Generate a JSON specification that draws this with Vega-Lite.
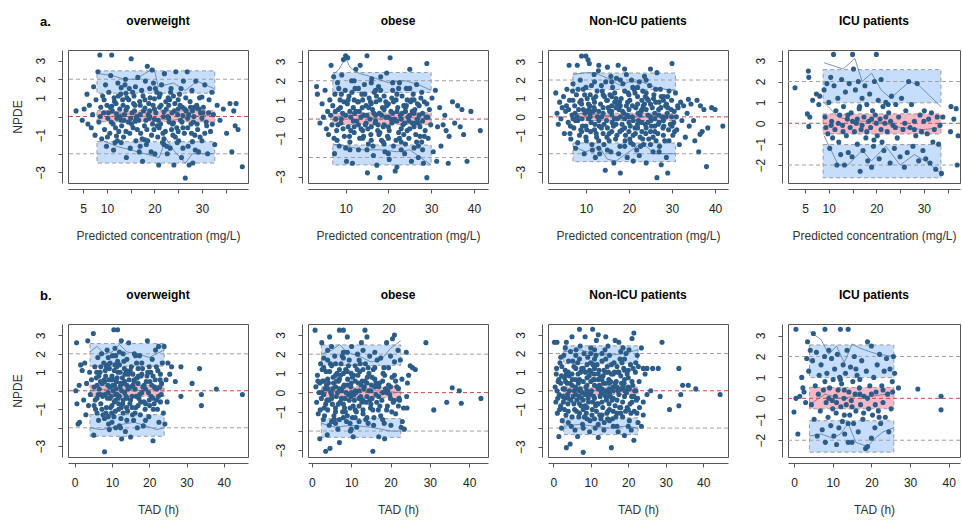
{
"$schema":"https://vega.github.io/schema/vega-lite/v6.json",
"padding":{"left":10,"top":14,"right":0,"bottom":4},
"background":"white",
"datasets":{
"ref":[{"y":2,"c":"g"},{"y":-2,"c":"g"},{"y":0,"c":"r"}],
"box":[
{"p":"a1","t":"b","x":7.9,"x2":32.7,"y":1.25,"y2":2.45},{"p":"a1","t":"b","x":7.9,"x2":32.7,"y":-2.5,"y2":-1.35},{"p":"a1","t":"p","x":7.9,"x2":32.7,"y":-0.28,"y2":0.31},
{"p":"a2","t":"b","x":7.0,"x2":30.0,"y":1.39,"y2":2.43},{"p":"a2","t":"b","x":7.0,"x2":30.0,"y":-2.39,"y2":-1.35},{"p":"a2","t":"p","x":7.0,"x2":30.0,"y":-0.28,"y2":0.33},
{"p":"a3","t":"b","x":7.0,"x2":30.8,"y":1.48,"y2":2.38},{"p":"a3","t":"b","x":7.0,"x2":30.8,"y":-2.43,"y2":-1.42},{"p":"a3","t":"p","x":7.0,"x2":30.8,"y":-0.2,"y2":0.2},
{"p":"a4","t":"b","x":8.8,"x2":33.6,"y":0.98,"y2":2.57},{"p":"a4","t":"b","x":8.8,"x2":33.6,"y":-2.61,"y2":-1.02},{"p":"a4","t":"p","x":8.8,"x2":33.6,"y":-0.51,"y2":0.45},
{"p":"b1","t":"b","x":4.1,"x2":24.0,"y":1.33,"y2":2.55},{"p":"b1","t":"b","x":4.1,"x2":24.0,"y":-2.46,"y2":-1.29},{"p":"b1","t":"p","x":4.1,"x2":24.0,"y":-0.3,"y2":0.3},
{"p":"b2","t":"b","x":2.4,"x2":22.6,"y":1.42,"y2":2.48},{"p":"b2","t":"b","x":2.4,"x2":22.6,"y":-2.33,"y2":-1.35},{"p":"b2","t":"p","x":2.4,"x2":22.6,"y":-0.26,"y2":0.3},
{"p":"b3","t":"b","x":2.8,"x2":22.6,"y":1.45,"y2":2.41},{"p":"b3","t":"b","x":2.8,"x2":22.6,"y":-2.35,"y2":-1.45},{"p":"b3","t":"p","x":2.8,"x2":22.6,"y":-0.2,"y2":0.2},
{"p":"b4","t":"b","x":4.0,"x2":25.8,"y":0.99,"y2":2.55},{"p":"b4","t":"b","x":4.0,"x2":25.8,"y":-2.57,"y2":-1.07},{"p":"b4","t":"p","x":4.0,"x2":25.8,"y":-0.5,"y2":0.52}
],
"pl":[
{"p":"a1","k":"u","x":8.3,"y":2.3},{"p":"a1","k":"u","x":11,"y":2.2},{"p":"a1","k":"u","x":13.7,"y":2.0},{"p":"a1","k":"u","x":16,"y":2.0},{"p":"a1","k":"u","x":19.9,"y":2.6},{"p":"a1","k":"u","x":20.8,"y":1.6},{"p":"a1","k":"u","x":24,"y":1.8},{"p":"a1","k":"u","x":26.5,"y":1.4},{"p":"a1","k":"u","x":29,"y":1.9},{"p":"a1","k":"u","x":32.5,"y":1.5},
{"p":"a1","k":"m","x":8.3,"y":0.1},{"p":"a1","k":"m","x":12,"y":0.2},{"p":"a1","k":"m","x":16,"y":0.1},{"p":"a1","k":"m","x":20,"y":-0.1},{"p":"a1","k":"m","x":24,"y":-0.2},{"p":"a1","k":"m","x":28,"y":0.0},{"p":"a1","k":"m","x":32.5,"y":0.1},
{"p":"a1","k":"l","x":8.3,"y":-1.2},{"p":"a1","k":"l","x":12,"y":-1.6},{"p":"a1","k":"l","x":15,"y":-1.8},{"p":"a1","k":"l","x":18,"y":-2.0},{"p":"a1","k":"l","x":21,"y":-2.2},{"p":"a1","k":"l","x":22.5,"y":-1.2},{"p":"a1","k":"l","x":24,"y":-1.8},{"p":"a1","k":"l","x":26.5,"y":-2.5},{"p":"a1","k":"l","x":28,"y":-2.0},{"p":"a1","k":"l","x":32.5,"y":-2.0},
{"p":"a2","k":"u","x":7,"y":2.3},{"p":"a2","k":"u","x":8.5,"y":2.6},{"p":"a2","k":"u","x":10,"y":3.2},{"p":"a2","k":"u","x":11,"y":2.7},{"p":"a2","k":"u","x":13,"y":2.4},{"p":"a2","k":"u","x":16,"y":2.2},{"p":"a2","k":"u","x":20,"y":1.9},{"p":"a2","k":"u","x":24,"y":2.0},{"p":"a2","k":"u","x":27,"y":1.8},{"p":"a2","k":"u","x":30,"y":1.5},
{"p":"a2","k":"m","x":7,"y":0.1},{"p":"a2","k":"m","x":12,"y":0.2},{"p":"a2","k":"m","x":18,"y":0.0},{"p":"a2","k":"m","x":24,"y":0.1},{"p":"a2","k":"m","x":30,"y":0.0},
{"p":"a2","k":"l","x":7,"y":-1.3},{"p":"a2","k":"l","x":10,"y":-1.4},{"p":"a2","k":"l","x":14,"y":-1.6},{"p":"a2","k":"l","x":18,"y":-1.6},{"p":"a2","k":"l","x":22,"y":-1.7},{"p":"a2","k":"l","x":25,"y":-1.6},{"p":"a2","k":"l","x":30,"y":-2.4},
{"p":"a3","k":"u","x":7,"y":2.3},{"p":"a3","k":"u","x":10,"y":2.4},{"p":"a3","k":"u","x":12,"y":2.4},{"p":"a3","k":"u","x":15,"y":2.1},{"p":"a3","k":"u","x":18,"y":1.7},{"p":"a3","k":"u","x":20,"y":1.9},{"p":"a3","k":"u","x":23,"y":1.9},{"p":"a3","k":"u","x":26,"y":1.6},{"p":"a3","k":"u","x":30.8,"y":1.4},
{"p":"a3","k":"m","x":7,"y":0.2},{"p":"a3","k":"m","x":13,"y":0.1},{"p":"a3","k":"m","x":19,"y":0.0},{"p":"a3","k":"m","x":25,"y":0.0},{"p":"a3","k":"m","x":30.8,"y":0.0},
{"p":"a3","k":"l","x":7,"y":-1.6},{"p":"a3","k":"l","x":10,"y":-1.9},{"p":"a3","k":"l","x":13,"y":-1.6},{"p":"a3","k":"l","x":15,"y":-2.3},{"p":"a3","k":"l","x":17,"y":-2.4},{"p":"a3","k":"l","x":20,"y":-1.9},{"p":"a3","k":"l","x":23,"y":-1.4},{"p":"a3","k":"l","x":26,"y":-2.0},{"p":"a3","k":"l","x":30.8,"y":-2.0},
{"p":"a4","k":"u","x":9,"y":2.9},{"p":"a4","k":"u","x":13,"y":2.6},{"p":"a4","k":"u","x":15.5,"y":3.1},{"p":"a4","k":"u","x":17,"y":2.0},{"p":"a4","k":"u","x":19,"y":2.4},{"p":"a4","k":"u","x":21,"y":1.6},{"p":"a4","k":"u","x":23,"y":1.2},{"p":"a4","k":"u","x":27,"y":2.0},{"p":"a4","k":"u","x":29,"y":1.8},{"p":"a4","k":"u","x":33.6,"y":0.8},
{"p":"a4","k":"m","x":9,"y":1.0},{"p":"a4","k":"m","x":12,"y":0.3},{"p":"a4","k":"m","x":15,"y":0.1},{"p":"a4","k":"m","x":20,"y":0.1},{"p":"a4","k":"m","x":25,"y":-0.2},{"p":"a4","k":"m","x":30,"y":-0.3},{"p":"a4","k":"m","x":33.6,"y":-0.2},
{"p":"a4","k":"l","x":9,"y":-0.6},{"p":"a4","k":"l","x":12,"y":-2.0},{"p":"a4","k":"l","x":14,"y":-2.0},{"p":"a4","k":"l","x":17,"y":-1.3},{"p":"a4","k":"l","x":19,"y":-1.8},{"p":"a4","k":"l","x":22,"y":-1.1},{"p":"a4","k":"l","x":25,"y":-2.0},{"p":"a4","k":"l","x":28,"y":-1.5},{"p":"a4","k":"l","x":31,"y":-1.9},{"p":"a4","k":"l","x":33.6,"y":-2.4},
{"p":"b1","k":"u","x":4.1,"y":2.1},{"p":"b1","k":"u","x":6,"y":2.4},{"p":"b1","k":"u","x":8,"y":2.0},{"p":"b1","k":"u","x":10,"y":2.1},{"p":"b1","k":"u","x":12,"y":2.5},{"p":"b1","k":"u","x":14,"y":2.1},{"p":"b1","k":"u","x":17,"y":2.0},{"p":"b1","k":"u","x":20,"y":1.8},{"p":"b1","k":"u","x":24,"y":2.2},
{"p":"b1","k":"m","x":4.1,"y":0.0},{"p":"b1","k":"m","x":10,"y":0.1},{"p":"b1","k":"m","x":16,"y":0.0},{"p":"b1","k":"m","x":24,"y":0.1},
{"p":"b1","k":"l","x":4.1,"y":-2.0},{"p":"b1","k":"l","x":7,"y":-2.1},{"p":"b1","k":"l","x":10,"y":-2.0},{"p":"b1","k":"l","x":13,"y":-1.8},{"p":"b1","k":"l","x":16,"y":-1.7},{"p":"b1","k":"l","x":19,"y":-1.9},{"p":"b1","k":"l","x":22,"y":-2.1},{"p":"b1","k":"l","x":24,"y":-2.0},
{"p":"b2","k":"u","x":2.4,"y":2.0},{"p":"b2","k":"u","x":5,"y":2.2},{"p":"b2","k":"u","x":7,"y":2.5},{"p":"b2","k":"u","x":9,"y":2.1},{"p":"b2","k":"u","x":12,"y":1.9},{"p":"b2","k":"u","x":15,"y":1.6},{"p":"b2","k":"u","x":17.5,"y":1.7},{"p":"b2","k":"u","x":20,"y":2.3},{"p":"b2","k":"u","x":22.6,"y":2.7},
{"p":"b2","k":"m","x":2.4,"y":0.1},{"p":"b2","k":"m","x":10,"y":0.0},{"p":"b2","k":"m","x":16,"y":0.1},{"p":"b2","k":"m","x":22.6,"y":0.0},
{"p":"b2","k":"l","x":2.4,"y":-1.6},{"p":"b2","k":"l","x":6,"y":-1.8},{"p":"b2","k":"l","x":10,"y":-1.7},{"p":"b2","k":"l","x":15,"y":-1.8},{"p":"b2","k":"l","x":20,"y":-2.0},{"p":"b2","k":"l","x":22.6,"y":-2.0},
{"p":"b3","k":"u","x":2.8,"y":2.1},{"p":"b3","k":"u","x":7,"y":2.2},{"p":"b3","k":"u","x":11,"y":2.0},{"p":"b3","k":"u","x":15,"y":1.9},{"p":"b3","k":"u","x":19,"y":2.0},{"p":"b3","k":"u","x":22.6,"y":2.2},
{"p":"b3","k":"m","x":2.8,"y":0.0},{"p":"b3","k":"m","x":12,"y":0.0},{"p":"b3","k":"m","x":22.6,"y":0.0},
{"p":"b3","k":"l","x":2.8,"y":-1.9},{"p":"b3","k":"l","x":7,"y":-1.8},{"p":"b3","k":"l","x":11,"y":-1.9},{"p":"b3","k":"l","x":15,"y":-2.0},{"p":"b3","k":"l","x":19,"y":-1.9},{"p":"b3","k":"l","x":22.6,"y":-2.0},
{"p":"b4","k":"u","x":4,"y":3.2},{"p":"b4","k":"u","x":7,"y":2.8},{"p":"b4","k":"u","x":9,"y":2.1},{"p":"b4","k":"u","x":11,"y":2.5},{"p":"b4","k":"u","x":13,"y":1.7},{"p":"b4","k":"u","x":15,"y":2.6},{"p":"b4","k":"u","x":17,"y":2.4},{"p":"b4","k":"u","x":20,"y":2.2},{"p":"b4","k":"u","x":22,"y":2.1},{"p":"b4","k":"u","x":25.8,"y":2.0},
{"p":"b4","k":"m","x":4,"y":-0.3},{"p":"b4","k":"m","x":8,"y":0.2},{"p":"b4","k":"m","x":12,"y":0.0},{"p":"b4","k":"m","x":16,"y":0.1},{"p":"b4","k":"m","x":20,"y":0.1},{"p":"b4","k":"m","x":24,"y":0.2},{"p":"b4","k":"m","x":25.8,"y":0.4},
{"p":"b4","k":"l","x":4,"y":-1.8},{"p":"b4","k":"l","x":7,"y":-1.7},{"p":"b4","k":"l","x":10,"y":-1.9},{"p":"b4","k":"l","x":12,"y":-1.7},{"p":"b4","k":"l","x":14,"y":-1.2},{"p":"b4","k":"l","x":16,"y":-2.1},{"p":"b4","k":"l","x":19,"y":-2.3},{"p":"b4","k":"l","x":21,"y":-1.9},{"p":"b4","k":"l","x":23,"y":-1.6},{"p":"b4","k":"l","x":25.8,"y":-1.4}
],
"pts":[
{"p":"a1","x":3.5,"y":0.3},{"p":"a1","x":4.8,"y":-0.2},{"p":"a1","x":5.2,"y":0.4},{"p":"a1","x":5.8,"y":1.2},{"p":"a1","x":6.0,"y":-0.4},{"p":"a1","x":6.3,"y":0.6},{"p":"a1","x":6.7,"y":-0.6},{"p":"a1","x":7.0,"y":0.1},{"p":"a1","x":7.2,"y":1.6},{"p":"a1","x":7.5,"y":-1.0},{"p":"a1","x":7.7,"y":0.9},
{"p":"a1","x":8.1,"y":2.4},{"p":"a1","x":8.3,"y":-0.3},{"p":"a1","x":8.5,"y":3.3},{"p":"a1","x":8.7,"y":0.5},{"p":"a1","x":8.9,"y":-1.2},{"p":"a1","x":9.1,"y":1.1},{"p":"a1","x":9.3,"y":0.2},{"p":"a1","x":9.5,"y":-0.7},{"p":"a1","x":9.7,"y":1.7},{"p":"a1","x":9.9,"y":-1.6},{"p":"a1","x":10.0,"y":0.6},{"p":"a1","x":10.2,"y":-0.1},
{"p":"a1","x":10.4,"y":1.3},{"p":"a1","x":10.6,"y":-0.9},{"p":"a1","x":10.8,"y":2.2},{"p":"a1","x":11.0,"y":3.3},{"p":"a1","x":11.1,"y":0.3},{"p":"a1","x":11.3,"y":-0.4},{"p":"a1","x":11.5,"y":1.0},{"p":"a1","x":11.7,"y":-1.4},{"p":"a1","x":11.9,"y":0.7},{"p":"a1","x":12.1,"y":-0.1},{"p":"a1","x":12.3,"y":1.8},{"p":"a1","x":12.5,"y":-0.8},{"p":"a1","x":12.7,"y":0.4},{"p":"a1","x":12.9,"y":1.2},{"p":"a1","x":13.1,"y":-0.5},{"p":"a1","x":13.3,"y":0.9},
{"p":"a1","x":13.5,"y":-1.1},{"p":"a1","x":13.7,"y":0.1},{"p":"a1","x":13.9,"y":2.0},{"p":"a1","x":14.1,"y":-2.2},{"p":"a1","x":14.3,"y":0.5},{"p":"a1","x":14.5,"y":-0.3},{"p":"a1","x":14.7,"y":1.5},{"p":"a1","x":14.9,"y":-1.7},{"p":"a1","x":15.1,"y":3.1},{"p":"a1","x":15.3,"y":0.2},{"p":"a1","x":15.5,"y":-0.6},{"p":"a1","x":15.7,"y":1.1},{"p":"a1","x":15.9,"y":0.6},{"p":"a1","x":16.1,"y":-1.3},{"p":"a1","x":16.3,"y":0.0},{"p":"a1","x":16.5,"y":2.1},{"p":"a1","x":16.7,"y":-0.2},{"p":"a1","x":16.9,"y":0.8},
{"p":"a1","x":17.1,"y":-0.9},{"p":"a1","x":17.3,"y":1.4},{"p":"a1","x":17.5,"y":-2.4},{"p":"a1","x":17.7,"y":0.3},{"p":"a1","x":17.9,"y":-0.5},{"p":"a1","x":18.1,"y":1.9},{"p":"a1","x":18.3,"y":-1.5},{"p":"a1","x":18.5,"y":2.7},{"p":"a1","x":18.7,"y":0.1},{"p":"a1","x":18.9,"y":-0.1},{"p":"a1","x":19.1,"y":1.0},{"p":"a1","x":19.3,"y":-1.9},{"p":"a1","x":19.5,"y":2.5},{"p":"a1","x":19.7,"y":0.6},{"p":"a1","x":19.9,"y":-0.7},{"p":"a1","x":20.1,"y":-2.0},{"p":"a1","x":20.3,"y":0.2},{"p":"a1","x":20.5,"y":1.3},{"p":"a1","x":20.7,"y":-1.1},{"p":"a1","x":20.9,"y":-2.6},
{"p":"a1","x":21.1,"y":0.5},{"p":"a1","x":21.3,"y":-0.4},{"p":"a1","x":21.5,"y":1.7},{"p":"a1","x":21.7,"y":-1.4},{"p":"a1","x":21.9,"y":0.0},{"p":"a1","x":22.1,"y":2.3},{"p":"a1","x":22.3,"y":-0.8},{"p":"a1","x":22.5,"y":0.4},{"p":"a1","x":22.7,"y":-2.0},{"p":"a1","x":22.9,"y":1.0},{"p":"a1","x":23.1,"y":-0.3},{"p":"a1","x":23.3,"y":-1.7},{"p":"a1","x":23.5,"y":1.5},{"p":"a1","x":23.7,"y":0.2},{"p":"a1","x":23.9,"y":-1.0},{"p":"a1","x":24.1,"y":-2.6},{"p":"a1","x":24.3,"y":0.7},{"p":"a1","x":24.5,"y":2.4},{"p":"a1","x":24.7,"y":-0.6},{"p":"a1","x":24.9,"y":0.1},
{"p":"a1","x":25.1,"y":-1.3},{"p":"a1","x":25.3,"y":1.2},{"p":"a1","x":25.5,"y":-0.2},{"p":"a1","x":25.7,"y":-2.2},{"p":"a1","x":25.9,"y":0.5},{"p":"a1","x":26.1,"y":1.9},{"p":"a1","x":26.3,"y":-0.9},{"p":"a1","x":26.5,"y":-3.3},{"p":"a1","x":26.7,"y":0.3},{"p":"a1","x":26.9,"y":2.4},{"p":"a1","x":27.1,"y":-1.6},{"p":"a1","x":27.3,"y":-2.6},{"p":"a1","x":27.5,"y":0.8},{"p":"a1","x":27.7,"y":-0.4},{"p":"a1","x":27.9,"y":1.4},{"p":"a1","x":28.1,"y":-2.5},{"p":"a1","x":28.3,"y":0.0},{"p":"a1","x":28.5,"y":-1.0},{"p":"a1","x":28.7,"y":1.9},{"p":"a1","x":28.9,"y":0.6},
{"p":"a1","x":29.1,"y":-0.7},{"p":"a1","x":29.3,"y":-1.9},{"p":"a1","x":29.5,"y":1.0},{"p":"a1","x":29.7,"y":0.2},{"p":"a1","x":30.0,"y":-1.3},{"p":"a1","x":30.3,"y":0.5},{"p":"a1","x":30.6,"y":1.7},{"p":"a1","x":30.9,"y":-0.3},{"p":"a1","x":31.2,"y":-2.0},{"p":"a1","x":31.5,"y":0.9},{"p":"a1","x":31.8,"y":-0.8},{"p":"a1","x":32.1,"y":1.3},{"p":"a1","x":32.4,"y":0.1},{"p":"a1","x":32.7,"y":-1.5},
{"p":"a1","x":33.2,"y":0.6},{"p":"a1","x":33.8,"y":-0.2},{"p":"a1","x":34.5,"y":0.4},{"p":"a1","x":35.2,"y":-0.9},{"p":"a1","x":35.9,"y":0.7},{"p":"a1","x":36.3,"y":-1.9},{"p":"a1","x":36.7,"y":0.3},{"p":"a1","x":37.0,"y":-0.5},{"p":"a1","x":37.2,"y":0.7},{"p":"a1","x":37.6,"y":-0.7},{"p":"a1","x":38.5,"y":-2.7},
{"p":"a1","x":12,"y":0.15},{"p":"a1","x":14,"y":0.35},{"p":"a1","x":16,"y":-0.25},{"p":"a1","x":18,"y":0.45},{"p":"a1","x":20,"y":-0.15},{"p":"a1","x":22,"y":0.25},{"p":"a1","x":24,"y":-0.35},{"p":"a1","x":26,"y":0.05},{"p":"a1","x":28,"y":0.3},{"p":"a1","x":30,"y":-0.1},{"p":"a1","x":13,"y":-0.2},{"p":"a1","x":17,"y":0.6},{"p":"a1","x":21,"y":-0.6},{"p":"a1","x":25,"y":0.4},{"p":"a1","x":19,"y":0.0},{"p":"a1","x":23,"y":0.6},{"p":"a1","x":15,"y":-0.1},{"p":"a1","x":27,"y":-0.1},{"p":"a1","x":11,"y":0.55},{"p":"a1","x":29,"y":0.45},
{"p":"a1","x":12,"y":-1.05},{"p":"a1","x":14,"y":1.25},{"p":"a1","x":16,"y":1.6},{"p":"a1","x":18,"y":-1.25},{"p":"a1","x":20,"y":0.95},{"p":"a1","x":22,"y":-1.2},{"p":"a1","x":24,"y":1.1},{"p":"a1","x":26,"y":-1.7},{"p":"a1","x":28,"y":-1.35},{"p":"a1","x":30,"y":1.05},{"p":"a1","x":13,"y":1.55},{"p":"a1","x":17,"y":-1.6},{"p":"a1","x":21,"y":1.05},{"p":"a1","x":25,"y":-0.8},{"p":"a1","x":19,"y":1.5},
{"p":"a1","x":10.3,"y":0.2},{"p":"a1","x":10.9,"y":-0.3},{"p":"a1","x":11.6,"y":0.8},{"p":"a1","x":12.2,"y":-1.3},{"p":"a1","x":12.8,"y":0.0},{"p":"a1","x":13.4,"y":0.6},{"p":"a1","x":14.0,"y":-0.8},{"p":"a1","x":14.6,"y":0.9},{"p":"a1","x":15.2,"y":-0.4},{"p":"a1","x":15.8,"y":0.3},{"p":"a1","x":16.4,"y":-0.7},{"p":"a1","x":17.0,"y":0.1},{"p":"a1","x":17.6,"y":1.1},{"p":"a1","x":18.2,"y":-0.2},{"p":"a1","x":18.8,"y":0.7},{"p":"a1","x":19.4,"y":-1.0},{"p":"a1","x":20.0,"y":0.4},{"p":"a1","x":20.6,"y":-0.5},{"p":"a1","x":21.2,"y":1.2},{"p":"a1","x":21.8,"y":-0.9},{"p":"a1","x":22.4,"y":0.8},{"p":"a1","x":23.0,"y":-0.1},{"p":"a1","x":23.6,"y":-0.7},{"p":"a1","x":24.2,"y":0.3},{"p":"a1","x":24.8,"y":-1.4},{"p":"a1","x":25.4,"y":0.6},{"p":"a1","x":26.0,"y":-0.6},{"p":"a1","x":26.6,"y":1.0},{"p":"a1","x":27.2,"y":0.1},{"p":"a1","x":27.8,"y":-0.9},{"p":"a1","x":28.4,"y":0.5},{"p":"a1","x":29.0,"y":-0.4},{"p":"a1","x":29.6,"y":-1.1},{"p":"a1","x":30.2,"y":0.2},{"p":"a1","x":31.0,"y":-0.5},{"p":"a1","x":13.8,"y":1.7},{"p":"a1","x":16.8,"y":-1.9},{"p":"a1","x":19.8,"y":1.8},{"p":"a1","x":22.6,"y":-1.6},{"p":"a1","x":25.6,"y":1.5},{"p":"a1","x":11.4,"y":-1.8},{"p":"a1","x":28.6,"y":-1.8},{"p":"a1","x":15.4,"y":1.3},{"p":"a1","x":18.6,"y":-1.3},{"p":"a1","x":23.4,"y":1.3},
{"p":"a1","x":8.6,"y":0.0},{"p":"a1","x":9.4,"y":0.9},{"p":"a1","x":10.1,"y":-1.1},{"p":"a1","x":10.7,"y":0.5},{"p":"a1","x":11.8,"y":-0.6},{"p":"a1","x":12.4,"y":1.1},{"p":"a1","x":13.0,"y":-1.4},{"p":"a1","x":13.6,"y":-0.2},{"p":"a1","x":14.2,"y":1.0},{"p":"a1","x":14.8,"y":-0.9},{"p":"a1","x":15.6,"y":0.7},{"p":"a1","x":16.2,"y":-0.1},{"p":"a1","x":17.4,"y":-1.2},{"p":"a1","x":18.0,"y":0.9},{"p":"a1","x":18.4,"y":-0.7},{"p":"a1","x":19.0,"y":0.3},{"p":"a1","x":19.6,"y":-0.4},{"p":"a1","x":20.2,"y":1.5},{"p":"a1","x":20.8,"y":-0.2},{"p":"a1","x":21.4,"y":0.6},{"p":"a1","x":22.0,"y":-1.5},{"p":"a1","x":22.8,"y":0.0},{"p":"a1","x":23.2,"y":0.9},{"p":"a1","x":23.8,"y":-0.4},{"p":"a1","x":24.4,"y":-1.1},{"p":"a1","x":25.0,"y":0.9},{"p":"a1","x":25.8,"y":-0.3},{"p":"a1","x":26.4,"y":0.4},{"p":"a1","x":27.0,"y":-0.6},{"p":"a1","x":27.6,"y":0.5},{"p":"a1","x":28.2,"y":-0.3},{"p":"a1","x":29.4,"y":0.4},{"p":"a1","x":30.6,"y":-0.9},{"p":"a1","x":31.4,"y":0.2},{"p":"a1","x":32.2,"y":-0.4},

{"p":"a2","x":3.2,"y":1.7},{"p":"a2","x":3.4,"y":1.3},{"p":"a2","x":4.0,"y":-0.2},{"p":"a2","x":4.5,"y":0.8},{"p":"a2","x":4.8,"y":0.1},{"p":"a2","x":5.2,"y":1.5},{"p":"a2","x":5.5,"y":-0.5},{"p":"a2","x":5.8,"y":0.4},{"p":"a2","x":6.0,"y":-0.8},{"p":"a2","x":6.3,"y":1.0},{"p":"a2","x":6.5,"y":0.2},{"p":"a2","x":6.6,"y":2.8},{"p":"a2","x":6.8,"y":-0.3},{"p":"a2","x":7.0,"y":0.7},
{"p":"a2","x":7.2,"y":2.2},{"p":"a2","x":7.3,"y":-1.0},{"p":"a2","x":7.5,"y":1.3},{"p":"a2","x":7.7,"y":0.0},{"p":"a2","x":7.9,"y":-0.6},{"p":"a2","x":8.1,"y":1.9},{"p":"a2","x":8.3,"y":0.5},{"p":"a2","x":8.5,"y":-1.4},{"p":"a2","x":8.7,"y":1.0},{"p":"a2","x":8.9,"y":-0.2},{"p":"a2","x":9.1,"y":2.3},{"p":"a2","x":9.3,"y":0.3},{"p":"a2","x":9.5,"y":3.1},{"p":"a2","x":9.7,"y":-0.9},{"p":"a2","x":9.9,"y":1.5},{"p":"a2","x":10.0,"y":3.3},{"p":"a2","x":10.2,"y":-2.2},{"p":"a2","x":10.4,"y":0.8},
{"p":"a2","x":10.5,"y":3.2},{"p":"a2","x":10.6,"y":-0.4},{"p":"a2","x":10.8,"y":1.2},{"p":"a2","x":11.0,"y":-1.2},{"p":"a2","x":11.2,"y":0.1},{"p":"a2","x":11.4,"y":2.0},{"p":"a2","x":11.6,"y":-2.3},{"p":"a2","x":11.8,"y":0.6},{"p":"a2","x":12.0,"y":-0.7},{"p":"a2","x":12.2,"y":1.6},{"p":"a2","x":12.4,"y":2.6},{"p":"a2","x":12.6,"y":-0.1},{"p":"a2","x":12.8,"y":0.9},{"p":"a2","x":13.0,"y":-1.6},{"p":"a2","x":13.2,"y":0.4},{"p":"a2","x":13.4,"y":2.8},{"p":"a2","x":13.6,"y":-0.5},{"p":"a2","x":13.8,"y":1.3},{"p":"a2","x":14.0,"y":-1.0},{"p":"a2","x":14.2,"y":0.2},{"p":"a2","x":14.4,"y":1.8},{"p":"a2","x":14.6,"y":-0.3},
{"p":"a2","x":14.8,"y":0.7},{"p":"a2","x":15.0,"y":3.3},{"p":"a2","x":15.1,"y":-2.8},{"p":"a2","x":15.3,"y":-1.3},{"p":"a2","x":15.5,"y":1.1},{"p":"a2","x":15.7,"y":0.0},{"p":"a2","x":15.9,"y":-0.8},{"p":"a2","x":16.1,"y":2.1},{"p":"a2","x":16.3,"y":0.5},{"p":"a2","x":16.5,"y":-1.9},{"p":"a2","x":16.7,"y":1.4},{"p":"a2","x":16.9,"y":-0.2},{"p":"a2","x":17.1,"y":0.9},{"p":"a2","x":17.3,"y":-2.4},{"p":"a2","x":17.5,"y":-0.6},{"p":"a2","x":17.7,"y":1.7},{"p":"a2","x":17.9,"y":0.3},{"p":"a2","x":18.0,"y":-3.05},{"p":"a2","x":18.2,"y":2.2},{"p":"a2","x":18.4,"y":-1.1},
{"p":"a2","x":18.6,"y":0.6},{"p":"a2","x":18.8,"y":-0.4},{"p":"a2","x":19.0,"y":1.2},{"p":"a2","x":19.2,"y":-1.7},{"p":"a2","x":19.4,"y":0.1},{"p":"a2","x":19.6,"y":2.4},{"p":"a2","x":19.8,"y":-0.9},{"p":"a2","x":20.0,"y":0.8},{"p":"a2","x":20.2,"y":-2.1},{"p":"a2","x":20.4,"y":3.2},{"p":"a2","x":20.6,"y":0.4},{"p":"a2","x":20.8,"y":-0.2},{"p":"a2","x":21.0,"y":1.5},{"p":"a2","x":21.2,"y":-1.4},{"p":"a2","x":21.4,"y":0.0},{"p":"a2","x":21.6,"y":-2.7},{"p":"a2","x":21.8,"y":1.0},{"p":"a2","x":22.0,"y":-2.5},{"p":"a2","x":22.2,"y":0.6},{"p":"a2","x":22.4,"y":-0.7},
{"p":"a2","x":22.6,"y":1.9},{"p":"a2","x":22.8,"y":0.2},{"p":"a2","x":23.0,"y":-1.2},{"p":"a2","x":23.2,"y":1.2},{"p":"a2","x":23.4,"y":-0.3},{"p":"a2","x":23.6,"y":0.7},{"p":"a2","x":23.8,"y":-1.8},{"p":"a2","x":24.0,"y":0.4},{"p":"a2","x":24.2,"y":1.6},{"p":"a2","x":24.4,"y":-0.6},{"p":"a2","x":24.6,"y":0.1},{"p":"a2","x":24.8,"y":-1.0},{"p":"a2","x":25.0,"y":2.6},{"p":"a2","x":25.2,"y":0.9},{"p":"a2","x":25.4,"y":-2.2},{"p":"a2","x":25.6,"y":-0.2},{"p":"a2","x":25.8,"y":1.3},{"p":"a2","x":26.0,"y":-1.5},{"p":"a2","x":26.2,"y":0.5},{"p":"a2","x":26.4,"y":-0.8},
{"p":"a2","x":26.6,"y":1.8},{"p":"a2","x":26.8,"y":0.0},{"p":"a2","x":27.0,"y":-2.0},{"p":"a2","x":27.2,"y":0.7},{"p":"a2","x":27.4,"y":-0.4},{"p":"a2","x":27.6,"y":1.1},{"p":"a2","x":27.8,"y":-1.2},{"p":"a2","x":28.0,"y":0.3},{"p":"a2","x":28.2,"y":-2.3},{"p":"a2","x":28.4,"y":0.9},{"p":"a2","x":28.6,"y":-0.6},{"p":"a2","x":28.8,"y":0.1},{"p":"a2","x":29.0,"y":2.9},{"p":"a2","x":29.0,"y":-3.05},{"p":"a2","x":29.3,"y":-1.0},{"p":"a2","x":29.6,"y":0.5},{"p":"a2","x":29.9,"y":-0.3},{"p":"a2","x":30.2,"y":1.1},
{"p":"a2","x":30.5,"y":-1.7},{"p":"a2","x":31.0,"y":1.5},{"p":"a2","x":31.3,"y":-2.2},{"p":"a2","x":31.5,"y":-0.4},{"p":"a2","x":32.0,"y":0.6},{"p":"a2","x":32.3,"y":-1.4},{"p":"a2","x":32.8,"y":-0.3},{"p":"a2","x":33.2,"y":0.2},{"p":"a2","x":33.5,"y":-0.6},{"p":"a2","x":34.0,"y":-2.3},{"p":"a2","x":34.2,"y":-0.9},{"p":"a2","x":35.0,"y":0.9},{"p":"a2","x":35.5,"y":-0.2},{"p":"a2","x":36.2,"y":0.7},{"p":"a2","x":36.8,"y":-0.4},{"p":"a2","x":37.2,"y":0.5},{"p":"a2","x":37.6,"y":-0.8},{"p":"a2","x":38.4,"y":-2.2},{"p":"a2","x":39.3,"y":0.4},{"p":"a2","x":41.5,"y":-0.6},
{"p":"a2","x":9,"y":0.0},{"p":"a2","x":11,"y":0.4},{"p":"a2","x":13,"y":-0.3},{"p":"a2","x":15,"y":0.2},{"p":"a2","x":17,"y":-0.1},{"p":"a2","x":19,"y":0.5},{"p":"a2","x":21,"y":0.3},{"p":"a2","x":23,"y":-0.5},{"p":"a2","x":25,"y":0.2},{"p":"a2","x":27,"y":-0.2},{"p":"a2","x":12,"y":1.0},{"p":"a2","x":14,"y":-0.6},{"p":"a2","x":16,"y":-1.1},{"p":"a2","x":18,"y":1.0},{"p":"a2","x":20,"y":-1.0},{"p":"a2","x":22,"y":1.3},{"p":"a2","x":24,"y":-1.3},{"p":"a2","x":26,"y":1.0},{"p":"a2","x":28,"y":-1.6},{"p":"a2","x":10,"y":-1.5},{"p":"a2","x":16,"y":0.8},{"p":"a2","x":18,"y":-0.7},{"p":"a2","x":20,"y":0.1},{"p":"a2","x":22,"y":-0.1},{"p":"a2","x":14,"y":1.0},{"p":"a2","x":12,"y":-0.4},{"p":"a2","x":24,"y":0.6},{"p":"a2","x":26,"y":-0.4},
{"p":"a2","x":7.6,"y":0.4},{"p":"a2","x":8.2,"y":-0.3},{"p":"a2","x":8.8,"y":0.6},{"p":"a2","x":9.4,"y":-0.5},{"p":"a2","x":10.0,"y":0.2},{"p":"a2","x":10.6,"y":1.0},{"p":"a2","x":11.2,"y":-0.6},{"p":"a2","x":11.8,"y":-0.1},{"p":"a2","x":12.4,"y":0.4},{"p":"a2","x":13.0,"y":0.9},{"p":"a2","x":13.6,"y":0.1},{"p":"a2","x":14.2,"y":-0.9},{"p":"a2","x":14.8,"y":-0.2},{"p":"a2","x":15.4,"y":0.6},{"p":"a2","x":16.0,"y":-0.4},{"p":"a2","x":16.6,"y":0.3},{"p":"a2","x":17.2,"y":1.2},{"p":"a2","x":17.8,"y":-0.8},{"p":"a2","x":18.4,"y":0.2},{"p":"a2","x":19.0,"y":-0.3},{"p":"a2","x":19.6,"y":0.7},{"p":"a2","x":20.2,"y":-0.6},{"p":"a2","x":20.8,"y":1.1},{"p":"a2","x":21.4,"y":-0.1},{"p":"a2","x":22.0,"y":0.4},{"p":"a2","x":22.6,"y":-1.0},{"p":"a2","x":23.2,"y":0.3},{"p":"a2","x":23.8,"y":-0.2},{"p":"a2","x":24.4,"y":1.0},{"p":"a2","x":25.0,"y":-0.5},{"p":"a2","x":25.6,"y":0.4},{"p":"a2","x":26.2,"y":-0.2},{"p":"a2","x":26.8,"y":0.8},{"p":"a2","x":27.4,"y":-0.9},{"p":"a2","x":28.0,"y":-0.1},{"p":"a2","x":9.0,"y":1.3},{"p":"a2","x":11.0,"y":-1.6},{"p":"a2","x":13.0,"y":1.6},{"p":"a2","x":15.0,"y":-1.6},{"p":"a2","x":17.0,"y":1.5},{"p":"a2","x":19.0,"y":-1.3},{"p":"a2","x":21.0,"y":1.9},{"p":"a2","x":23.0,"y":-1.6},{"p":"a2","x":25.0,"y":1.6},{"p":"a2","x":27.0,"y":-1.4},{"p":"a2","x":12.0,"y":2.0},{"p":"a2","x":16.0,"y":1.9},{"p":"a2","x":20.0,"y":-1.8},{"p":"a2","x":8.0,"y":-1.1},{"p":"a2","x":29.0,"y":0.8},
{"p":"a2","x":7.4,"y":-1.8},{"p":"a2","x":8.4,"y":1.6},{"p":"a2","x":9.6,"y":0.9},{"p":"a2","x":10.9,"y":-0.9},{"p":"a2","x":11.5,"y":1.4},{"p":"a2","x":12.1,"y":0.3},{"p":"a2","x":13.3,"y":-1.0},{"p":"a2","x":13.9,"y":0.6},{"p":"a2","x":14.5,"y":1.3},{"p":"a2","x":15.2,"y":-0.5},{"p":"a2","x":15.8,"y":0.9},{"p":"a2","x":16.4,"y":-1.4},{"p":"a2","x":17.0,"y":0.2},{"p":"a2","x":17.6,"y":-0.3},{"p":"a2","x":18.2,"y":1.5},{"p":"a2","x":18.8,"y":-1.2},{"p":"a2","x":19.4,"y":0.9},{"p":"a2","x":20.0,"y":-0.4},{"p":"a2","x":20.6,"y":0.0},{"p":"a2","x":21.2,"y":0.9},{"p":"a2","x":21.8,"y":-1.1},{"p":"a2","x":22.4,"y":1.6},{"p":"a2","x":23.0,"y":0.0},{"p":"a2","x":23.6,"y":-0.8},{"p":"a2","x":24.2,"y":0.7},{"p":"a2","x":24.8,"y":-0.1},{"p":"a2","x":25.4,"y":1.0},{"p":"a2","x":26.0,"y":0.3},{"p":"a2","x":26.6,"y":-1.2},{"p":"a2","x":27.2,"y":0.2},{"p":"a2","x":27.8,"y":1.4},{"p":"a2","x":28.4,"y":-0.9},{"p":"a2","x":29.2,"y":0.1},

{"p":"a3","x":3.0,"y":1.3},{"p":"a3","x":3.3,"y":0.2},{"p":"a3","x":3.6,"y":-0.4},{"p":"a3","x":3.9,"y":0.8},{"p":"a3","x":4.2,"y":-0.1},{"p":"a3","x":4.5,"y":0.5},{"p":"a3","x":4.8,"y":1.1},{"p":"a3","x":5.0,"y":-0.9},{"p":"a3","x":5.3,"y":0.3},{"p":"a3","x":5.6,"y":1.5},{"p":"a3","x":5.9,"y":-0.3},{"p":"a3","x":6.1,"y":2.8},{"p":"a3","x":6.2,"y":0.9},{"p":"a3","x":6.5,"y":-1.2},{"p":"a3","x":6.8,"y":0.1},{"p":"a3","x":7.0,"y":1.8},{"p":"a3","x":7.2,"y":-0.6},
{"p":"a3","x":7.4,"y":0.6},{"p":"a3","x":7.6,"y":-1.7},{"p":"a3","x":7.8,"y":1.2},{"p":"a3","x":8.0,"y":2.8},{"p":"a3","x":8.1,"y":-0.2},{"p":"a3","x":8.3,"y":0.4},{"p":"a3","x":8.5,"y":-1.0},{"p":"a3","x":8.7,"y":2.0},{"p":"a3","x":8.9,"y":0.9},{"p":"a3","x":9.0,"y":3.3},{"p":"a3","x":9.2,"y":-0.5},{"p":"a3","x":9.4,"y":1.5},{"p":"a3","x":9.6,"y":-2.0},{"p":"a3","x":9.8,"y":0.2},{"p":"a3","x":10.0,"y":3.3},{"p":"a3","x":10.1,"y":-1.3},{"p":"a3","x":10.3,"y":1.0},{"p":"a3","x":10.5,"y":3.1},{"p":"a3","x":10.6,"y":-0.1},{"p":"a3","x":10.8,"y":2.9},
{"p":"a3","x":10.9,"y":0.6},{"p":"a3","x":11.1,"y":-0.8},{"p":"a3","x":11.3,"y":1.7},{"p":"a3","x":11.5,"y":-1.8},{"p":"a3","x":11.7,"y":0.3},{"p":"a3","x":11.9,"y":2.3},{"p":"a3","x":12.1,"y":-0.4},{"p":"a3","x":12.3,"y":1.1},{"p":"a3","x":12.5,"y":-1.1},{"p":"a3","x":12.7,"y":0.0},{"p":"a3","x":12.9,"y":2.5},{"p":"a3","x":13.0,"y":2.8},{"p":"a3","x":13.2,"y":-2.0},{"p":"a3","x":13.4,"y":0.7},{"p":"a3","x":13.6,"y":-0.6},{"p":"a3","x":13.8,"y":1.4},{"p":"a3","x":14.0,"y":0.2},{"p":"a3","x":14.2,"y":-1.5},{"p":"a3","x":14.5,"y":-2.9},{"p":"a3","x":14.6,"y":1.9},
{"p":"a3","x":14.8,"y":-0.2},{"p":"a3","x":15.0,"y":2.7},{"p":"a3","x":15.2,"y":0.5},{"p":"a3","x":15.4,"y":-0.9},{"p":"a3","x":15.6,"y":1.2},{"p":"a3","x":15.8,"y":-1.9},{"p":"a3","x":16.0,"y":0.1},{"p":"a3","x":16.2,"y":1.6},{"p":"a3","x":16.4,"y":-0.5},{"p":"a3","x":16.5,"y":-2.5},{"p":"a3","x":16.7,"y":0.8},{"p":"a3","x":16.9,"y":-1.2},{"p":"a3","x":17.1,"y":2.1},{"p":"a3","x":17.3,"y":-0.1},{"p":"a3","x":17.5,"y":2.8},{"p":"a3","x":17.7,"y":0.4},{"p":"a3","x":17.9,"y":-1.6},{"p":"a3","x":18.0,"y":-3.05},{"p":"a3","x":18.2,"y":1.0},{"p":"a3","x":18.4,"y":-0.7},
{"p":"a3","x":18.6,"y":1.8},{"p":"a3","x":18.8,"y":0.2},{"p":"a3","x":19.0,"y":2.6},{"p":"a3","x":19.2,"y":-1.0},{"p":"a3","x":19.4,"y":0.6},{"p":"a3","x":19.6,"y":-2.2},{"p":"a3","x":19.8,"y":1.3},{"p":"a3","x":20.0,"y":-0.3},{"p":"a3","x":20.2,"y":0.9},{"p":"a3","x":20.4,"y":-1.4},{"p":"a3","x":20.6,"y":2.0},{"p":"a3","x":20.8,"y":0.0},{"p":"a3","x":21.0,"y":-2.4},{"p":"a3","x":21.2,"y":1.5},{"p":"a3","x":21.4,"y":-0.6},{"p":"a3","x":21.6,"y":0.5},{"p":"a3","x":21.8,"y":-1.8},{"p":"a3","x":22.0,"y":1.1},{"p":"a3","x":22.2,"y":-0.2},{"p":"a3","x":22.4,"y":1.9},
{"p":"a3","x":22.6,"y":-1.1},{"p":"a3","x":22.8,"y":0.3},{"p":"a3","x":23.0,"y":-0.8},{"p":"a3","x":23.2,"y":1.4},{"p":"a3","x":23.4,"y":-1.5},{"p":"a3","x":23.6,"y":0.7},{"p":"a3","x":23.8,"y":-0.4},{"p":"a3","x":24.0,"y":-2.5},{"p":"a3","x":24.2,"y":1.0},{"p":"a3","x":24.4,"y":0.1},{"p":"a3","x":24.6,"y":-1.2},{"p":"a3","x":24.8,"y":1.7},{"p":"a3","x":25.0,"y":2.6},{"p":"a3","x":25.2,"y":-0.5},{"p":"a3","x":25.4,"y":0.5},{"p":"a3","x":25.6,"y":-1.9},{"p":"a3","x":25.8,"y":1.2},{"p":"a3","x":26.0,"y":-0.1},{"p":"a3","x":26.2,"y":0.8},{"p":"a3","x":26.5,"y":-3.3},
{"p":"a3","x":26.5,"y":2.4},{"p":"a3","x":26.7,"y":-0.9},{"p":"a3","x":26.9,"y":0.4},{"p":"a3","x":27.1,"y":-1.6},{"p":"a3","x":27.3,"y":1.5},{"p":"a3","x":27.5,"y":-2.6},{"p":"a3","x":27.7,"y":0.0},{"p":"a3","x":27.9,"y":-0.6},{"p":"a3","x":28.1,"y":1.1},{"p":"a3","x":28.3,"y":-1.3},{"p":"a3","x":28.5,"y":0.6},{"p":"a3","x":28.7,"y":-2.2},{"p":"a3","x":28.9,"y":0.2},{"p":"a3","x":29.0,"y":-3.05},{"p":"a3","x":29.3,"y":1.4},{"p":"a3","x":29.6,"y":-0.4},{"p":"a3","x":29.9,"y":0.9},{"p":"a3","x":30.0,"y":2.9},{"p":"a3","x":30.2,"y":-1.0},{"p":"a3","x":30.5,"y":0.3},
{"p":"a3","x":30.8,"y":1.3},{"p":"a3","x":31.1,"y":-0.7},{"p":"a3","x":31.4,"y":0.5},{"p":"a3","x":31.7,"y":-1.5},{"p":"a3","x":32.0,"y":0.8},{"p":"a3","x":32.3,"y":-0.2},{"p":"a3","x":32.7,"y":0.6},{"p":"a3","x":33.1,"y":-1.1},{"p":"a3","x":33.5,"y":0.2},{"p":"a3","x":34.0,"y":-0.5},{"p":"a3","x":34.4,"y":0.7},{"p":"a3","x":35.0,"y":-0.2},{"p":"a3","x":35.3,"y":-1.3},{"p":"a3","x":35.8,"y":0.9},{"p":"a3","x":36.2,"y":-1.9},{"p":"a3","x":36.6,"y":0.6},{"p":"a3","x":37.0,"y":-0.8},{"p":"a3","x":37.4,"y":0.4},{"p":"a3","x":38.0,"y":-2.7},{"p":"a3","x":38.3,"y":-0.6},{"p":"a3","x":39.2,"y":0.5},{"p":"a3","x":40.0,"y":0.4},{"p":"a3","x":41.8,"y":-0.5},{"p":"a3","x":36.5,"y":-0.95},{"p":"a3","x":33.8,"y":0.95},
{"p":"a3","x":8,"y":0.0},{"p":"a3","x":9,"y":0.7},{"p":"a3","x":10,"y":-0.5},{"p":"a3","x":11,"y":0.2},{"p":"a3","x":12,"y":0.8},{"p":"a3","x":13,"y":-0.2},{"p":"a3","x":14,"y":0.5},{"p":"a3","x":15,"y":-0.6},{"p":"a3","x":16,"y":0.3},{"p":"a3","x":17,"y":-0.4},{"p":"a3","x":18,"y":0.6},{"p":"a3","x":19,"y":-0.1},{"p":"a3","x":20,"y":0.4},{"p":"a3","x":21,"y":-0.2},{"p":"a3","x":22,"y":0.7},{"p":"a3","x":23,"y":-0.3},{"p":"a3","x":24,"y":0.4},{"p":"a3","x":25,"y":-0.8},{"p":"a3","x":26,"y":0.2},{"p":"a3","x":27,"y":0.8},{"p":"a3","x":28,"y":-0.2},{"p":"a3","x":29,"y":0.5},{"p":"a3","x":30,"y":-0.5},{"p":"a3","x":9,"y":-0.8},{"p":"a3","x":11,"y":1.2},{"p":"a3","x":13,"y":-1.3},{"p":"a3","x":15,"y":0.9},{"p":"a3","x":17,"y":1.0},{"p":"a3","x":19,"y":-0.6},{"p":"a3","x":21,"y":-1.0},{"p":"a3","x":23,"y":0.9},{"p":"a3","x":25,"y":0.0},{"p":"a3","x":27,"y":-0.3},{"p":"a3","x":12,"y":-0.7},{"p":"a3","x":14,"y":1.2},{"p":"a3","x":16,"y":-0.8},{"p":"a3","x":18,"y":0.0},{"p":"a3","x":20,"y":-0.8},{"p":"a3","x":22,"y":-0.6},{"p":"a3","x":24,"y":-0.6},{"p":"a3","x":26,"y":-0.5},{"p":"a3","x":28,"y":0.9},{"p":"a3","x":10,"y":0.3},{"p":"a3","x":6,"y":0.4},{"p":"a3","x":7,"y":-0.1},{"p":"a3","x":31,"y":0.0},{"p":"a3","x":16,"y":1.1},{"p":"a3","x":20,"y":1.2},{"p":"a3","x":24,"y":1.3},{"p":"a3","x":12,"y":0.4},
{"p":"a3","x":6.4,"y":-0.5},{"p":"a3","x":7.0,"y":0.9},{"p":"a3","x":7.6,"y":-0.2},{"p":"a3","x":8.2,"y":1.5},{"p":"a3","x":8.8,"y":-0.7},{"p":"a3","x":9.4,"y":0.4},{"p":"a3","x":10.0,"y":-1.1},{"p":"a3","x":10.6,"y":0.7},{"p":"a3","x":11.2,"y":-0.3},{"p":"a3","x":11.8,"y":1.0},{"p":"a3","x":12.4,"y":-0.9},{"p":"a3","x":13.0,"y":0.3},{"p":"a3","x":13.6,"y":1.7},{"p":"a3","x":14.2,"y":-0.4},{"p":"a3","x":14.8,"y":0.9},{"p":"a3","x":15.4,"y":-1.3},{"p":"a3","x":16.0,"y":0.6},{"p":"a3","x":16.6,"y":-0.1},{"p":"a3","x":17.2,"y":-1.0},{"p":"a3","x":17.8,"y":0.8},{"p":"a3","x":18.4,"y":-0.4},{"p":"a3","x":19.0,"y":1.4},{"p":"a3","x":19.6,"y":0.1},{"p":"a3","x":20.2,"y":-1.2},{"p":"a3","x":20.8,"y":0.6},{"p":"a3","x":21.4,"y":1.3},{"p":"a3","x":22.0,"y":-0.4},{"p":"a3","x":22.6,"y":0.1},{"p":"a3","x":23.2,"y":-1.2},{"p":"a3","x":23.8,"y":1.1},{"p":"a3","x":24.4,"y":-0.3},{"p":"a3","x":25.0,"y":0.7},{"p":"a3","x":25.6,"y":-1.1},{"p":"a3","x":26.2,"y":1.5},{"p":"a3","x":26.8,"y":-0.4},{"p":"a3","x":27.4,"y":0.5},{"p":"a3","x":28.0,"y":-1.0},{"p":"a3","x":28.6,"y":0.0},{"p":"a3","x":29.2,"y":-0.7},{"p":"a3","x":29.8,"y":0.4},{"p":"a3","x":30.4,"y":-0.3},{"p":"a3","x":12.0,"y":1.9},{"p":"a3","x":15.0,"y":-1.8},{"p":"a3","x":18.0,"y":2.0},{"p":"a3","x":21.0,"y":-1.5},{"p":"a3","x":24.0,"y":2.0},{"p":"a3","x":27.0,"y":-1.9},{"p":"a3","x":10.0,"y":1.6},{"p":"a3","x":13.0,"y":-1.7},{"p":"a3","x":16.0,"y":1.9},{"p":"a3","x":19.0,"y":-1.6},{"p":"a3","x":22.0,"y":1.6},{"p":"a3","x":25.0,"y":-1.5},{"p":"a3","x":11.0,"y":0.0},{"p":"a3","x":14.0,"y":-0.9},{"p":"a3","x":17.0,"y":0.5},{"p":"a3","x":20.0,"y":0.0},{"p":"a3","x":23.0,"y":0.4},{"p":"a3","x":26.0,"y":-0.8},{"p":"a3","x":29.0,"y":1.1},
{"p":"a3","x":5.5,"y":0.6},{"p":"a3","x":6.3,"y":-0.9},{"p":"a3","x":6.9,"y":1.4},{"p":"a3","x":7.5,"y":0.2},{"p":"a3","x":8.1,"y":-1.4},{"p":"a3","x":8.6,"y":0.8},{"p":"a3","x":9.1,"y":-0.1},{"p":"a3","x":9.7,"y":1.2},{"p":"a3","x":10.2,"y":-0.7},{"p":"a3","x":10.7,"y":0.4},{"p":"a3","x":11.4,"y":-1.5},{"p":"a3","x":11.9,"y":0.5},{"p":"a3","x":12.6,"y":1.4},{"p":"a3","x":13.1,"y":-0.5},{"p":"a3","x":13.7,"y":0.0},{"p":"a3","x":14.3,"y":1.1},{"p":"a3","x":14.9,"y":-1.1},{"p":"a3","x":15.5,"y":0.3},{"p":"a3","x":16.1,"y":-0.3},{"p":"a3","x":16.7,"y":1.3},{"p":"a3","x":17.3,"y":0.7},{"p":"a3","x":17.9,"y":-0.8},{"p":"a3","x":18.5,"y":0.3},{"p":"a3","x":19.1,"y":-1.3},{"p":"a3","x":19.7,"y":0.8},{"p":"a3","x":20.3,"y":-0.5},{"p":"a3","x":20.9,"y":1.6},{"p":"a3","x":21.5,"y":-0.9},{"p":"a3","x":22.1,"y":0.2},{"p":"a3","x":22.7,"y":-1.6},{"p":"a3","x":23.3,"y":0.6},{"p":"a3","x":23.9,"y":-0.9},{"p":"a3","x":24.5,"y":0.9},{"p":"a3","x":25.1,"y":-0.2},{"p":"a3","x":25.7,"y":1.0},{"p":"a3","x":26.3,"y":-1.3},{"p":"a3","x":26.9,"y":0.1},{"p":"a3","x":27.5,"y":1.1},{"p":"a3","x":28.1,"y":-0.5},{"p":"a3","x":28.7,"y":0.7},{"p":"a3","x":29.3,"y":-1.3},{"p":"a3","x":29.9,"y":0.0},{"p":"a3","x":30.6,"y":-0.8},{"p":"a3","x":31.3,"y":0.6},{"p":"a3","x":15.8,"y":2.2},{"p":"a3","x":19.4,"y":2.3},{"p":"a3","x":23.6,"y":2.2},{"p":"a3","x":12.2,"y":-2.2},{"p":"a3","x":17.6,"y":-2.0},{"p":"a3","x":22.4,"y":-2.1},

{"p":"a4","x":2.9,"y":1.7},{"p":"a4","x":5.5,"y":0.45},{"p":"a4","x":5.8,"y":-0.15},{"p":"a4","x":5.7,"y":2.5},{"p":"a4","x":5.8,"y":2.2},{"p":"a4","x":6.6,"y":1.1},{"p":"a4","x":7.4,"y":1.4},{"p":"a4","x":8.1,"y":1.3},{"p":"a4","x":7.9,"y":0.9},{"p":"a4","x":6.0,"y":0.3},
{"p":"a4","x":9.0,"y":1.6},{"p":"a4","x":9.2,"y":0.3},{"p":"a4","x":9.4,"y":-0.2},{"p":"a4","x":9.6,"y":1.9},{"p":"a4","x":9.8,"y":-0.5},{"p":"a4","x":10.0,"y":1.0},{"p":"a4","x":10.2,"y":-1.2},{"p":"a4","x":10.4,"y":2.2},{"p":"a4","x":10.6,"y":0.1},{"p":"a4","x":10.8,"y":-0.7},{"p":"a4","x":11.0,"y":3.3},{"p":"a4","x":11.1,"y":1.8},{"p":"a4","x":11.3,"y":-0.3},{"p":"a4","x":11.5,"y":0.6},{"p":"a4","x":11.7,"y":-2.0},{"p":"a4","x":11.9,"y":1.2},{"p":"a4","x":12.1,"y":-0.9},{"p":"a4","x":12.3,"y":0.4},{"p":"a4","x":12.5,"y":-1.5},{"p":"a4","x":12.7,"y":2.1},{"p":"a4","x":12.9,"y":-0.1},{"p":"a4","x":13.1,"y":0.8},{"p":"a4","x":13.3,"y":-2.0},
{"p":"a4","x":13.5,"y":1.5},{"p":"a4","x":13.7,"y":-0.6},{"p":"a4","x":13.9,"y":0.2},{"p":"a4","x":14.1,"y":-1.4},{"p":"a4","x":14.3,"y":1.9},{"p":"a4","x":14.5,"y":-0.2},{"p":"a4","x":14.7,"y":0.5},{"p":"a4","x":14.9,"y":-1.6},{"p":"a4","x":15.0,"y":3.3},{"p":"a4","x":15.2,"y":2.6},{"p":"a4","x":15.4,"y":-0.4},{"p":"a4","x":15.6,"y":1.6},{"p":"a4","x":15.8,"y":0.0},{"p":"a4","x":16.0,"y":-1.0},{"p":"a4","x":16.2,"y":2.0},{"p":"a4","x":16.4,"y":0.7},{"p":"a4","x":16.6,"y":-2.3},{"p":"a4","x":16.8,"y":-0.3},{"p":"a4","x":17.0,"y":1.2},{"p":"a4","x":17.2,"y":-1.3},
{"p":"a4","x":17.4,"y":0.3},{"p":"a4","x":17.6,"y":1.8},{"p":"a4","x":17.8,"y":-0.7},{"p":"a4","x":18.0,"y":0.9},{"p":"a4","x":18.2,"y":-1.8},{"p":"a4","x":18.4,"y":0.1},{"p":"a4","x":18.6,"y":1.4},{"p":"a4","x":18.8,"y":-0.2},{"p":"a4","x":19.0,"y":-2.1},{"p":"a4","x":19.2,"y":0.6},{"p":"a4","x":19.4,"y":-1.1},{"p":"a4","x":19.6,"y":2.0},{"p":"a4","x":19.8,"y":0.4},{"p":"a4","x":20.0,"y":3.3},{"p":"a4","x":20.2,"y":-0.6},{"p":"a4","x":20.4,"y":1.1},{"p":"a4","x":20.6,"y":-1.7},{"p":"a4","x":20.8,"y":0.2},{"p":"a4","x":21.0,"y":2.1},{"p":"a4","x":21.2,"y":-0.9},
{"p":"a4","x":21.4,"y":0.8},{"p":"a4","x":21.6,"y":-1.3},{"p":"a4","x":21.8,"y":0.0},{"p":"a4","x":22.0,"y":1.0},{"p":"a4","x":22.3,"y":-0.4},{"p":"a4","x":22.6,"y":0.5},{"p":"a4","x":22.9,"y":-1.9},{"p":"a4","x":23.2,"y":1.3},{"p":"a4","x":23.5,"y":-0.1},{"p":"a4","x":23.8,"y":-1.2},{"p":"a4","x":24.1,"y":0.9},{"p":"a4","x":24.4,"y":-0.7},{"p":"a4","x":24.7,"y":0.3},{"p":"a4","x":25.0,"y":-1.6},{"p":"a4","x":25.3,"y":1.2},{"p":"a4","x":25.6,"y":-0.3},{"p":"a4","x":25.9,"y":-2.1},
{"p":"a4","x":26.2,"y":0.6},{"p":"a4","x":26.5,"y":-1.4},{"p":"a4","x":26.8,"y":2.0},{"p":"a4","x":27.1,"y":-0.2},{"p":"a4","x":27.4,"y":0.9},{"p":"a4","x":27.7,"y":-1.1},{"p":"a4","x":28.0,"y":0.1},{"p":"a4","x":28.3,"y":-0.6},{"p":"a4","x":28.6,"y":1.9},{"p":"a4","x":28.9,"y":-1.8},{"p":"a4","x":29.2,"y":0.4},{"p":"a4","x":29.5,"y":-0.4},{"p":"a4","x":29.8,"y":-1.3},{"p":"a4","x":30.1,"y":0.6},{"p":"a4","x":30.4,"y":-1.7},{"p":"a4","x":30.7,"y":-0.5},{"p":"a4","x":31.0,"y":0.2},{"p":"a4","x":31.3,"y":-1.9},{"p":"a4","x":31.6,"y":0.5},{"p":"a4","x":31.9,"y":-0.9},{"p":"a4","x":32.2,"y":-0.3},{"p":"a4","x":32.5,"y":-2.2},{"p":"a4","x":32.8,"y":0.3},{"p":"a4","x":33.1,"y":-1.0},{"p":"a4","x":33.4,"y":-0.1},{"p":"a4","x":33.7,"y":-2.4},{"p":"a4","x":34.0,"y":0.3},
{"p":"a4","x":35.7,"y":0.8},{"p":"a4","x":36.8,"y":0.7},{"p":"a4","x":35.6,"y":-0.4},{"p":"a4","x":36.3,"y":0.2},{"p":"a4","x":37.2,"y":-0.6},{"p":"a4","x":37.0,"y":-2.0},
{"p":"a4","x":12,"y":0.0},{"p":"a4","x":14,"y":0.4},{"p":"a4","x":16,"y":0.2},{"p":"a4","x":18,"y":-0.4},{"p":"a4","x":20,"y":0.0},{"p":"a4","x":22,"y":0.3},{"p":"a4","x":24,"y":-0.2},{"p":"a4","x":13,"y":-0.4},{"p":"a4","x":15,"y":0.1},{"p":"a4","x":17,"y":-0.1},{"p":"a4","x":19,"y":0.2},{"p":"a4","x":21,"y":-0.3},{"p":"a4","x":23,"y":0.1},{"p":"a4","x":26,"y":0.0},{"p":"a4","x":28,"y":-0.3},{"p":"a4","x":30,"y":0.1},{"p":"a4","x":10.5,"y":-0.1},{"p":"a4","x":16.5,"y":0.8},{"p":"a4","x":19.5,"y":-0.8},{"p":"a4","x":22.5,"y":0.9},

{"p":"b1","x":0.3,"y":0.0},{"p":"b1","x":0.5,"y":2.6},{"p":"b1","x":0.6,"y":-0.7},{"p":"b1","x":0.9,"y":-1.8},{"p":"b1","x":1.2,"y":0.3},{"p":"b1","x":1.3,"y":-1.7},{"p":"b1","x":1.6,"y":1.4},{"p":"b1","x":2.0,"y":1.1},{"p":"b1","x":2.4,"y":-0.5},{"p":"b1","x":2.7,"y":1.5},{"p":"b1","x":3.0,"y":-1.3},{"p":"b1","x":3.2,"y":0.4},{"p":"b1","x":3.5,"y":2.7},{"p":"b1","x":3.7,"y":-0.8},{"p":"b1","x":4.0,"y":1.0},{"p":"b1","x":4.2,"y":-0.2},{"p":"b1","x":4.5,"y":0.6},
{"p":"b1","x":5.0,"y":3.1},{"p":"b1","x":5.1,"y":-2.4},{"p":"b1","x":5.2,"y":0.2},{"p":"b1","x":5.4,"y":1.3},{"p":"b1","x":5.6,"y":-1.0},{"p":"b1","x":5.8,"y":0.7},{"p":"b1","x":6.0,"y":-0.4},{"p":"b1","x":6.2,"y":1.8},{"p":"b1","x":6.4,"y":-1.6},{"p":"b1","x":6.6,"y":0.1},{"p":"b1","x":6.8,"y":1.0},{"p":"b1","x":7.0,"y":-0.7},{"p":"b1","x":7.2,"y":2.0},{"p":"b1","x":7.4,"y":0.4},{"p":"b1","x":7.6,"y":-1.3},{"p":"b1","x":7.8,"y":1.5},{"p":"b1","x":8.0,"y":-3.3},{"p":"b1","x":8.1,"y":-0.2},{"p":"b1","x":8.3,"y":0.8},
{"p":"b1","x":8.5,"y":-0.9},{"p":"b1","x":8.7,"y":2.2},{"p":"b1","x":8.9,"y":0.3},{"p":"b1","x":9.1,"y":-1.8},{"p":"b1","x":9.3,"y":1.2},{"p":"b1","x":9.5,"y":-0.4},{"p":"b1","x":9.7,"y":0.6},{"p":"b1","x":9.9,"y":-1.2},{"p":"b1","x":10.1,"y":1.9},{"p":"b1","x":10.3,"y":0.0},{"p":"b1","x":10.5,"y":3.3},{"p":"b1","x":10.6,"y":-0.6},{"p":"b1","x":10.8,"y":1.4},{"p":"b1","x":11.0,"y":-2.0},{"p":"b1","x":11.2,"y":0.5},{"p":"b1","x":11.4,"y":-0.2},{"p":"b1","x":11.5,"y":3.3},{"p":"b1","x":11.6,"y":1.0},
{"p":"b1","x":11.8,"y":-1.0},{"p":"b1","x":12.0,"y":2.1},{"p":"b1","x":12.2,"y":0.2},{"p":"b1","x":12.4,"y":-1.5},{"p":"b1","x":12.5,"y":2.7},{"p":"b1","x":12.6,"y":-2.6},{"p":"b1","x":12.8,"y":0.7},{"p":"b1","x":13.0,"y":-0.5},{"p":"b1","x":13.2,"y":1.6},{"p":"b1","x":13.4,"y":-0.1},{"p":"b1","x":13.6,"y":-2.2},{"p":"b1","x":13.8,"y":1.1},{"p":"b1","x":14.0,"y":0.3},{"p":"b1","x":14.2,"y":-1.1},{"p":"b1","x":14.5,"y":2.6},{"p":"b1","x":14.6,"y":0.6},{"p":"b1","x":14.8,"y":-0.7},{"p":"b1","x":15.0,"y":-2.5},
{"p":"b1","x":15.2,"y":1.3},{"p":"b1","x":15.4,"y":-0.3},{"p":"b1","x":15.6,"y":0.9},{"p":"b1","x":15.8,"y":-1.6},{"p":"b1","x":16.0,"y":2.0},{"p":"b1","x":16.2,"y":0.1},{"p":"b1","x":16.4,"y":-0.9},{"p":"b1","x":16.6,"y":1.5},{"p":"b1","x":16.8,"y":-2.0},{"p":"b1","x":17.0,"y":0.4},{"p":"b1","x":17.2,"y":-0.4},{"p":"b1","x":17.4,"y":1.9},{"p":"b1","x":17.6,"y":-1.3},{"p":"b1","x":17.8,"y":0.8},{"p":"b1","x":18.0,"y":-0.1},{"p":"b1","x":18.2,"y":1.2},{"p":"b1","x":18.4,"y":-1.9},{"p":"b1","x":18.6,"y":0.3},
{"p":"b1","x":19.0,"y":-0.7},{"p":"b1","x":19.5,"y":2.7},{"p":"b1","x":19.6,"y":1.0},{"p":"b1","x":19.9,"y":-1.4},{"p":"b1","x":20.2,"y":0.5},{"p":"b1","x":20.5,"y":-0.3},{"p":"b1","x":20.8,"y":1.7},{"p":"b1","x":21.0,"y":-2.7},{"p":"b1","x":21.1,"y":-1.0},{"p":"b1","x":21.4,"y":0.2},{"p":"b1","x":21.7,"y":2.2},{"p":"b1","x":22.0,"y":-0.5},{"p":"b1","x":22.3,"y":1.1},{"p":"b1","x":22.5,"y":2.4},{"p":"b1","x":22.6,"y":-1.7},{"p":"b1","x":22.9,"y":0.6},{"p":"b1","x":23.2,"y":-0.2},{"p":"b1","x":23.5,"y":1.5},{"p":"b1","x":23.8,"y":-1.2},{"p":"b1","x":24.0,"y":2.4},
{"p":"b1","x":24.5,"y":0.6},{"p":"b1","x":24.8,"y":-0.6},{"p":"b1","x":25.0,"y":1.5},{"p":"b1","x":25.5,"y":0.9},{"p":"b1","x":26.0,"y":1.3},{"p":"b1","x":27.0,"y":0.5},{"p":"b1","x":28.5,"y":1.3},{"p":"b1","x":28.5,"y":-0.3},{"p":"b1","x":31.5,"y":0.4},{"p":"b1","x":33.5,"y":1.2},{"p":"b1","x":34.0,"y":-0.2},{"p":"b1","x":34.0,"y":-0.8},{"p":"b1","x":38.0,"y":0.1},{"p":"b1","x":45.0,"y":-0.2},{"p":"b1","x":24.2,"y":-1.8},
{"p":"b1","x":8,"y":0.5},{"p":"b1","x":9,"y":-0.1},{"p":"b1","x":10,"y":0.8},{"p":"b1","x":11,"y":-0.5},{"p":"b1","x":12,"y":-0.3},{"p":"b1","x":13,"y":0.4},{"p":"b1","x":14,"y":-0.4},{"p":"b1","x":15,"y":0.2},{"p":"b1","x":16,"y":0.6},{"p":"b1","x":17,"y":-0.8},{"p":"b1","x":18,"y":0.9},{"p":"b1","x":19,"y":0.1},{"p":"b1","x":20,"y":-0.5},{"p":"b1","x":21,"y":0.8},{"p":"b1","x":22,"y":0.1},{"p":"b1","x":23,"y":-0.6},{"p":"b1","x":9.5,"y":1.5},{"p":"b1","x":10.5,"y":-1.4},{"p":"b1","x":11.5,"y":1.6},{"p":"b1","x":12.5,"y":-0.9},{"p":"b1","x":13.5,"y":0.9},{"p":"b1","x":6,"y":0.3},{"p":"b1","x":7,"y":-0.2},{"p":"b1","x":8.5,"y":1.3},{"p":"b1","x":10,"y":-0.8},{"p":"b1","x":12,"y":1.4},{"p":"b1","x":14,"y":-1.6},{"p":"b1","x":11,"y":0.1},{"p":"b1","x":9,"y":-1.4},{"p":"b1","x":10.7,"y":0.3},
{"p":"b1","x":5.5,"y":-0.5},{"p":"b1","x":6.5,"y":0.8},{"p":"b1","x":7.5,"y":-0.3},{"p":"b1","x":8.2,"y":1.1},{"p":"b1","x":8.8,"y":-0.4},{"p":"b1","x":9.2,"y":0.6},{"p":"b1","x":9.6,"y":-0.9},{"p":"b1","x":10.2,"y":0.3},{"p":"b1","x":10.6,"y":1.1},{"p":"b1","x":11.0,"y":-0.2},{"p":"b1","x":11.4,"y":0.7},{"p":"b1","x":11.8,"y":-0.7},{"p":"b1","x":12.2,"y":1.0},{"p":"b1","x":12.6,"y":0.0},{"p":"b1","x":13.0,"y":-1.2},{"p":"b1","x":13.4,"y":0.5},{"p":"b1","x":13.8,"y":-0.3},{"p":"b1","x":14.4,"y":0.9},{"p":"b1","x":15.0,"y":-0.5},{"p":"b1","x":15.6,"y":0.3},{"p":"b1","x":16.2,"y":-1.2},{"p":"b1","x":16.8,"y":0.7},{"p":"b1","x":17.4,"y":-0.2},{"p":"b1","x":18.0,"y":1.5},{"p":"b1","x":18.6,"y":-0.6},{"p":"b1","x":19.2,"y":0.5},{"p":"b1","x":19.8,"y":-0.1},{"p":"b1","x":20.4,"y":1.0},{"p":"b1","x":21.0,"y":-0.4},{"p":"b1","x":21.6,"y":0.6},{"p":"b1","x":22.2,"y":-1.0},{"p":"b1","x":22.8,"y":0.2},{"p":"b1","x":9.0,"y":1.8},{"p":"b1","x":10.0,"y":-1.7},{"p":"b1","x":11.0,"y":1.9},{"p":"b1","x":12.0,"y":-1.9},{"p":"b1","x":13.0,"y":2.0},{"p":"b1","x":8.0,"y":-1.5},{"p":"b1","x":14.0,"y":1.7},{"p":"b1","x":15.5,"y":-1.3},{"p":"b1","x":17.0,"y":1.2},{"p":"b1","x":19.0,"y":-1.6},{"p":"b1","x":20.0,"y":1.3},{"p":"b1","x":7.0,"y":1.3},{"p":"b1","x":6.0,"y":-1.2},{"p":"b1","x":23.0,"y":0.9},
{"p":"b1","x":5.2,"y":-0.8},{"p":"b1","x":5.9,"y":1.0},{"p":"b1","x":6.3,"y":-0.2},{"p":"b1","x":6.9,"y":0.5},{"p":"b1","x":7.3,"y":-1.0},{"p":"b1","x":7.9,"y":0.6},{"p":"b1","x":8.4,"y":-1.2},{"p":"b1","x":8.9,"y":1.4},{"p":"b1","x":9.4,"y":0.2},{"p":"b1","x":9.8,"y":-0.3},{"p":"b1","x":10.4,"y":0.6},{"p":"b1","x":10.9,"y":-1.1},{"p":"b1","x":11.3,"y":1.3},{"p":"b1","x":11.7,"y":-0.4},{"p":"b1","x":12.3,"y":0.4},{"p":"b1","x":12.9,"y":-0.7},{"p":"b1","x":13.3,"y":1.2},{"p":"b1","x":13.9,"y":-0.9},{"p":"b1","x":14.3,"y":0.1},{"p":"b1","x":14.9,"y":1.1},{"p":"b1","x":15.4,"y":-0.9},{"p":"b1","x":15.9,"y":0.5},{"p":"b1","x":16.5,"y":-0.3},{"p":"b1","x":17.1,"y":0.8},{"p":"b1","x":17.7,"y":-0.6},{"p":"b1","x":18.3,"y":0.2},{"p":"b1","x":18.9,"y":-1.0},{"p":"b1","x":19.4,"y":0.8},{"p":"b1","x":20.1,"y":-0.8},{"p":"b1","x":20.7,"y":0.3},{"p":"b1","x":21.3,"y":-0.7},{"p":"b1","x":21.9,"y":1.3},{"p":"b1","x":22.5,"y":-0.3},{"p":"b1","x":23.3,"y":0.4},{"p":"b1","x":9.3,"y":-2.1},{"p":"b1","x":12.3,"y":-2.0},{"p":"b1","x":16.3,"y":1.9},{"p":"b1","x":10.8,"y":2.3},

{"p":"b2","x":0.8,"y":3.25},{"p":"b2","x":1.0,"y":0.3},{"p":"b2","x":1.2,"y":-0.5},{"p":"b2","x":1.4,"y":0.9},{"p":"b2","x":1.6,"y":-1.1},{"p":"b2","x":1.8,"y":0.0},{"p":"b2","x":2.0,"y":-2.4},{"p":"b2","x":2.2,"y":1.5},{"p":"b2","x":2.4,"y":-0.3},{"p":"b2","x":2.5,"y":2.6},{"p":"b2","x":2.7,"y":0.6},{"p":"b2","x":2.9,"y":-1.4},
{"p":"b2","x":3.0,"y":1.8},{"p":"b2","x":3.1,"y":-0.8},{"p":"b2","x":3.3,"y":0.2},{"p":"b2","x":3.5,"y":-3.05},{"p":"b2","x":3.6,"y":1.1},{"p":"b2","x":3.8,"y":-0.4},{"p":"b2","x":4.0,"y":2.2},{"p":"b2","x":4.2,"y":0.5},{"p":"b2","x":4.4,"y":-1.7},{"p":"b2","x":4.5,"y":2.9},{"p":"b2","x":4.6,"y":-2.9},{"p":"b2","x":4.8,"y":0.0},{"p":"b2","x":5.0,"y":1.4},{"p":"b2","x":5.2,"y":-0.6},{"p":"b2","x":5.4,"y":0.8},{"p":"b2","x":5.6,"y":-1.2},{"p":"b2","x":5.8,"y":1.9},{"p":"b2","x":6.0,"y":0.3},
{"p":"b2","x":6.2,"y":-0.2},{"p":"b2","x":6.4,"y":1.0},{"p":"b2","x":6.6,"y":-1.9},{"p":"b2","x":6.8,"y":0.6},{"p":"b2","x":7.0,"y":3.25},{"p":"b2","x":7.0,"y":-2.6},{"p":"b2","x":7.2,"y":-0.5},{"p":"b2","x":7.4,"y":1.5},{"p":"b2","x":7.6,"y":0.1},{"p":"b2","x":7.8,"y":-1.0},{"p":"b2","x":8.0,"y":3.25},{"p":"b2","x":8.0,"y":2.1},{"p":"b2","x":8.2,"y":0.4},{"p":"b2","x":8.4,"y":-0.3},{"p":"b2","x":8.6,"y":1.2},{"p":"b2","x":8.8,"y":-1.5},{"p":"b2","x":9.0,"y":2.9},{"p":"b2","x":9.1,"y":0.7},{"p":"b2","x":9.3,"y":-0.1},{"p":"b2","x":9.5,"y":1.7},
{"p":"b2","x":9.7,"y":-0.8},{"p":"b2","x":9.9,"y":0.3},{"p":"b2","x":10.1,"y":2.4},{"p":"b2","x":10.3,"y":-1.3},{"p":"b2","x":10.5,"y":-2.3},{"p":"b2","x":10.6,"y":0.9},{"p":"b2","x":10.8,"y":-0.4},{"p":"b2","x":11.0,"y":1.4},{"p":"b2","x":11.2,"y":0.0},{"p":"b2","x":11.4,"y":-1.8},{"p":"b2","x":11.6,"y":2.0},{"p":"b2","x":11.8,"y":0.5},{"p":"b2","x":12.0,"y":-0.7},{"p":"b2","x":12.2,"y":1.1},{"p":"b2","x":12.4,"y":-0.2},{"p":"b2","x":12.6,"y":2.6},{"p":"b2","x":12.8,"y":0.6},{"p":"b2","x":13.0,"y":-1.1},{"p":"b2","x":13.2,"y":0.2},{"p":"b2","x":13.5,"y":3.25},
{"p":"b2","x":13.6,"y":1.5},{"p":"b2","x":13.8,"y":-0.5},{"p":"b2","x":14.0,"y":2.9},{"p":"b2","x":14.1,"y":0.8},{"p":"b2","x":14.3,"y":-1.6},{"p":"b2","x":14.5,"y":0.1},{"p":"b2","x":14.7,"y":1.9},{"p":"b2","x":14.9,"y":-0.8},{"p":"b2","x":15.1,"y":0.4},{"p":"b2","x":15.3,"y":-0.3},{"p":"b2","x":15.5,"y":-3.05},{"p":"b2","x":15.6,"y":1.2},{"p":"b2","x":15.8,"y":-1.3},{"p":"b2","x":16.0,"y":0.7},{"p":"b2","x":16.3,"y":-0.1},{"p":"b2","x":16.6,"y":1.7},{"p":"b2","x":16.9,"y":-0.9},{"p":"b2","x":17.0,"y":-2.3},{"p":"b2","x":17.2,"y":0.5},{"p":"b2","x":17.5,"y":1.8},
{"p":"b2","x":17.8,"y":-0.4},{"p":"b2","x":18.1,"y":1.0},{"p":"b2","x":18.4,"y":-1.6},{"p":"b2","x":18.5,"y":-2.4},{"p":"b2","x":18.7,"y":0.2},{"p":"b2","x":19.0,"y":2.6},{"p":"b2","x":19.2,"y":-0.7},{"p":"b2","x":19.5,"y":1.3},{"p":"b2","x":19.8,"y":-0.1},{"p":"b2","x":20.1,"y":-1.7},{"p":"b2","x":20.4,"y":0.8},{"p":"b2","x":20.5,"y":2.8},{"p":"b2","x":20.7,"y":-0.5},{"p":"b2","x":21.0,"y":3.0},{"p":"b2","x":21.0,"y":1.6},{"p":"b2","x":21.3,"y":-1.1},{"p":"b2","x":21.6,"y":0.3},{"p":"b2","x":21.9,"y":2.2},{"p":"b2","x":22.2,"y":-0.3},{"p":"b2","x":22.5,"y":1.7},{"p":"b2","x":22.7,"y":-1.8},{"p":"b2","x":22.9,"y":0.7},{"p":"b2","x":23.0,"y":-1.5},{"p":"b2","x":23.3,"y":-0.8},
{"p":"b2","x":23.5,"y":-1.9},{"p":"b2","x":24.0,"y":2.1},{"p":"b2","x":24.1,"y":-0.2},{"p":"b2","x":24.3,"y":0.5},{"p":"b2","x":24.2,"y":-0.8},{"p":"b2","x":24.6,"y":0.9},{"p":"b2","x":25.0,"y":1.4},{"p":"b2","x":25.6,"y":1.3},{"p":"b2","x":26.3,"y":1.2},{"p":"b2","x":29.0,"y":2.6},{"p":"b2","x":31.0,"y":-0.9},{"p":"b2","x":34.3,"y":-0.5},{"p":"b2","x":35.7,"y":0.25},{"p":"b2","x":37.5,"y":0.1},{"p":"b2","x":38.0,"y":-0.55},{"p":"b2","x":43.0,"y":-0.3},
{"p":"b2","x":2,"y":0.5},{"p":"b2","x":3,"y":-0.1},{"p":"b2","x":4,"y":0.7},{"p":"b2","x":5,"y":-0.3},{"p":"b2","x":6,"y":0.9},{"p":"b2","x":7,"y":0.2},{"p":"b2","x":8,"y":-0.6},{"p":"b2","x":9,"y":0.4},{"p":"b2","x":10,"y":-0.2},{"p":"b2","x":11,"y":0.6},{"p":"b2","x":12,"y":0.1},{"p":"b2","x":13,"y":-0.4},{"p":"b2","x":14,"y":0.5},{"p":"b2","x":15,"y":-0.6},{"p":"b2","x":16,"y":0.3},{"p":"b2","x":17,"y":-0.2},{"p":"b2","x":18,"y":0.6},{"p":"b2","x":19,"y":0.0},{"p":"b2","x":20,"y":0.3},{"p":"b2","x":21,"y":-0.4},{"p":"b2","x":22,"y":0.2},{"p":"b2","x":3,"y":1.3},{"p":"b2","x":5,"y":-1.5},{"p":"b2","x":7,"y":1.2},{"p":"b2","x":9,"y":-1.2},{"p":"b2","x":11,"y":-0.9},{"p":"b2","x":13,"y":1.2},{"p":"b2","x":6,"y":-0.8},{"p":"b2","x":8,"y":1.0},{"p":"b2","x":10,"y":1.0},{"p":"b2","x":12,"y":-1.5},{"p":"b2","x":4,"y":-0.9},{"p":"b2","x":10,"y":0.0},{"p":"b2","x":6,"y":1.5},{"p":"b2","x":8,"y":-1.3},
{"p":"b2","x":2.5,"y":0.0},{"p":"b2","x":3.0,"y":0.6},{"p":"b2","x":3.5,"y":-0.6},{"p":"b2","x":4.0,"y":0.2},{"p":"b2","x":4.5,"y":1.1},{"p":"b2","x":5.0,"y":-0.1},{"p":"b2","x":5.5,"y":0.5},{"p":"b2","x":6.0,"y":-1.0},{"p":"b2","x":6.5,"y":0.0},{"p":"b2","x":7.0,"y":0.7},{"p":"b2","x":7.5,"y":-0.3},{"p":"b2","x":8.0,"y":0.3},{"p":"b2","x":8.5,"y":-1.0},{"p":"b2","x":9.0,"y":1.1},{"p":"b2","x":9.5,"y":-0.4},{"p":"b2","x":10.0,"y":0.5},{"p":"b2","x":10.5,"y":-0.7},{"p":"b2","x":11.0,"y":0.1},{"p":"b2","x":11.5,"y":1.2},{"p":"b2","x":12.0,"y":-0.3},{"p":"b2","x":12.5,"y":0.4},{"p":"b2","x":13.0,"y":-0.9},{"p":"b2","x":13.5,"y":0.6},{"p":"b2","x":14.0,"y":-0.2},{"p":"b2","x":14.5,"y":1.0},{"p":"b2","x":15.0,"y":0.1},{"p":"b2","x":15.5,"y":-0.9},{"p":"b2","x":16.0,"y":1.3},{"p":"b2","x":16.5,"y":-0.5},{"p":"b2","x":17.0,"y":0.3},{"p":"b2","x":17.5,"y":-1.2},{"p":"b2","x":18.0,"y":0.0},{"p":"b2","x":18.5,"y":0.9},{"p":"b2","x":19.0,"y":-0.9},{"p":"b2","x":19.5,"y":0.4},{"p":"b2","x":20.0,"y":-0.3},{"p":"b2","x":21.0,"y":0.9},{"p":"b2","x":22.0,"y":-0.7},{"p":"b2","x":4.0,"y":1.7},{"p":"b2","x":6.0,"y":-1.6},{"p":"b2","x":8.0,"y":1.8},{"p":"b2","x":10.0,"y":-1.9},{"p":"b2","x":12.0,"y":1.7},{"p":"b2","x":14.0,"y":-1.3},{"p":"b2","x":16.0,"y":2.1},{"p":"b2","x":18.0,"y":-1.4},{"p":"b2","x":20.0,"y":1.9},{"p":"b2","x":7.0,"y":-1.4},{"p":"b2","x":9.0,"y":2.1},{"p":"b2","x":11.0,"y":-1.3},
{"p":"b2","x":1.5,"y":0.6},{"p":"b2","x":2.1,"y":-0.9},{"p":"b2","x":2.6,"y":1.2},{"p":"b2","x":3.2,"y":-1.2},{"p":"b2","x":3.7,"y":0.4},{"p":"b2","x":4.3,"y":-0.4},{"p":"b2","x":4.7,"y":1.5},{"p":"b2","x":5.3,"y":0.2},{"p":"b2","x":5.7,"y":-1.4},{"p":"b2","x":6.3,"y":0.6},{"p":"b2","x":6.7,"y":-0.6},{"p":"b2","x":7.3,"y":0.9},{"p":"b2","x":7.7,"y":1.9},{"p":"b2","x":8.3,"y":-0.8},{"p":"b2","x":8.7,"y":0.0},{"p":"b2","x":9.3,"y":1.4},{"p":"b2","x":9.7,"y":-1.6},{"p":"b2","x":10.3,"y":0.8},{"p":"b2","x":10.7,"y":-0.1},{"p":"b2","x":11.3,"y":-1.0},{"p":"b2","x":11.7,"y":0.9},{"p":"b2","x":12.3,"y":1.5},{"p":"b2","x":12.7,"y":-0.5},{"p":"b2","x":13.3,"y":0.3},{"p":"b2","x":13.7,"y":-1.4},{"p":"b2","x":14.3,"y":1.3},{"p":"b2","x":14.7,"y":-0.4},{"p":"b2","x":15.3,"y":0.8},{"p":"b2","x":15.7,"y":-1.7},{"p":"b2","x":16.3,"y":0.5},{"p":"b2","x":17.3,"y":-0.7},{"p":"b2","x":18.3,"y":1.3},{"p":"b2","x":19.3,"y":0.1},{"p":"b2","x":20.3,"y":-1.0},{"p":"b2","x":21.3,"y":0.6},{"p":"b2","x":22.3,"y":-0.4},{"p":"b2","x":5.0,"y":2.4},{"p":"b2","x":9.8,"y":-2.0},{"p":"b2","x":13.0,"y":2.2},{"p":"b2","x":3.9,"y":-2.2},

{"p":"b3","x":0.3,"y":2.6},{"p":"b3","x":0.5,"y":0.2},{"p":"b3","x":0.7,"y":-0.6},{"p":"b3","x":0.9,"y":1.2},{"p":"b3","x":1.0,"y":2.6},{"p":"b3","x":1.1,"y":-1.2},{"p":"b3","x":1.3,"y":0.5},{"p":"b3","x":1.5,"y":-2.45},{"p":"b3","x":1.6,"y":-0.2},{"p":"b3","x":1.8,"y":1.5},{"p":"b3","x":2.0,"y":-0.9},{"p":"b3","x":2.2,"y":0.8},{"p":"b3","x":2.4,"y":-1.6},{"p":"b3","x":2.6,"y":0.1},{"p":"b3","x":2.8,"y":1.9},{"p":"b3","x":3.0,"y":-0.4},
{"p":"b3","x":3.2,"y":1.1},{"p":"b3","x":3.4,"y":-1.3},{"p":"b3","x":3.5,"y":2.6},{"p":"b3","x":3.5,"y":-3.05},{"p":"b3","x":3.7,"y":0.4},{"p":"b3","x":3.9,"y":-0.7},{"p":"b3","x":4.1,"y":1.6},{"p":"b3","x":4.3,"y":0.0},{"p":"b3","x":4.5,"y":-2.85},{"p":"b3","x":4.6,"y":2.1},{"p":"b3","x":4.8,"y":-1.9},{"p":"b3","x":5.0,"y":2.9},{"p":"b3","x":5.1,"y":0.6},{"p":"b3","x":5.3,"y":-0.3},{"p":"b3","x":5.5,"y":1.3},{"p":"b3","x":5.7,"y":-1.0},{"p":"b3","x":5.9,"y":0.2},{"p":"b3","x":6.1,"y":2.2},
{"p":"b3","x":6.3,"y":-0.5},{"p":"b3","x":6.5,"y":-2.45},{"p":"b3","x":6.6,"y":0.9},{"p":"b3","x":6.8,"y":-1.4},{"p":"b3","x":7.0,"y":3.3},{"p":"b3","x":7.0,"y":1.7},{"p":"b3","x":7.2,"y":0.1},{"p":"b3","x":7.4,"y":-0.8},{"p":"b3","x":7.6,"y":1.2},{"p":"b3","x":7.8,"y":-1.8},{"p":"b3","x":8.0,"y":-3.3},{"p":"b3","x":8.0,"y":0.5},{"p":"b3","x":8.2,"y":2.0},{"p":"b3","x":8.4,"y":-0.2},{"p":"b3","x":8.5,"y":2.9},{"p":"b3","x":8.6,"y":1.0},{"p":"b3","x":8.8,"y":-1.2},{"p":"b3","x":9.0,"y":0.3},{"p":"b3","x":9.2,"y":1.8},{"p":"b3","x":9.4,"y":-0.6},
{"p":"b3","x":9.6,"y":0.8},{"p":"b3","x":9.8,"y":-1.6},{"p":"b3","x":10.0,"y":2.3},{"p":"b3","x":10.2,"y":0.0},{"p":"b3","x":10.4,"y":-1.0},{"p":"b3","x":10.5,"y":3.3},{"p":"b3","x":10.6,"y":1.4},{"p":"b3","x":10.8,"y":-0.3},{"p":"b3","x":11.0,"y":0.6},{"p":"b3","x":11.2,"y":-2.0},{"p":"b3","x":11.4,"y":1.9},{"p":"b3","x":11.5,"y":2.7},{"p":"b3","x":11.6,"y":-0.7},{"p":"b3","x":11.8,"y":0.2},{"p":"b3","x":12.0,"y":3.0},{"p":"b3","x":12.0,"y":-2.5},{"p":"b3","x":12.2,"y":1.1},{"p":"b3","x":12.4,"y":-1.3},{"p":"b3","x":12.6,"y":0.7},{"p":"b3","x":12.8,"y":-0.1},
{"p":"b3","x":13.0,"y":1.6},{"p":"b3","x":13.2,"y":-0.9},{"p":"b3","x":13.4,"y":0.4},{"p":"b3","x":13.6,"y":-1.7},{"p":"b3","x":13.8,"y":2.2},{"p":"b3","x":14.0,"y":2.9},{"p":"b3","x":14.0,"y":0.0},{"p":"b3","x":14.2,"y":-0.5},{"p":"b3","x":14.4,"y":1.3},{"p":"b3","x":14.6,"y":-1.1},{"p":"b3","x":14.8,"y":0.6},{"p":"b3","x":15.0,"y":1.9},{"p":"b3","x":15.2,"y":-0.3},{"p":"b3","x":15.5,"y":-3.05},{"p":"b3","x":15.5,"y":0.9},{"p":"b3","x":15.8,"y":-1.5},{"p":"b3","x":16.0,"y":0.2},{"p":"b3","x":16.2,"y":1.5},{"p":"b3","x":16.5,"y":2.7},{"p":"b3","x":16.5,"y":-0.8},
{"p":"b3","x":16.8,"y":0.5},{"p":"b3","x":17.0,"y":-1.9},{"p":"b3","x":17.2,"y":1.0},{"p":"b3","x":17.5,"y":2.6},{"p":"b3","x":17.5,"y":-0.2},{"p":"b3","x":17.8,"y":1.7},{"p":"b3","x":18.0,"y":-1.2},{"p":"b3","x":18.2,"y":0.4},{"p":"b3","x":18.5,"y":-0.6},{"p":"b3","x":18.8,"y":1.2},{"p":"b3","x":19.0,"y":-2.4},{"p":"b3","x":19.1,"y":0.0},{"p":"b3","x":19.4,"y":2.0},{"p":"b3","x":19.7,"y":-0.9},{"p":"b3","x":20.0,"y":0.7},{"p":"b3","x":20.3,"y":-1.6},{"p":"b3","x":20.6,"y":1.4},{"p":"b3","x":20.9,"y":-0.3},
{"p":"b3","x":21.0,"y":2.8},{"p":"b3","x":21.2,"y":0.3},{"p":"b3","x":21.5,"y":3.1},{"p":"b3","x":21.5,"y":-2.65},{"p":"b3","x":21.6,"y":-1.1},{"p":"b3","x":21.9,"y":1.0},{"p":"b3","x":22.2,"y":-0.5},{"p":"b3","x":22.4,"y":1.9},{"p":"b3","x":22.6,"y":-1.7},{"p":"b3","x":22.9,"y":0.5},{"p":"b3","x":23.0,"y":-0.9},{"p":"b3","x":22.7,"y":1.3},
{"p":"b3","x":23.5,"y":2.3},{"p":"b3","x":23.5,"y":-1.9},{"p":"b3","x":24.0,"y":1.2},{"p":"b3","x":24.0,"y":-1.3},{"p":"b3","x":24.0,"y":-0.6},{"p":"b3","x":24.5,"y":0.9},{"p":"b3","x":25.0,"y":1.2},{"p":"b3","x":25.0,"y":-0.2},{"p":"b3","x":26.0,"y":0.0},{"p":"b3","x":26.5,"y":1.2},{"p":"b3","x":28.0,"y":1.2},{"p":"b3","x":28.5,"y":-0.3},{"p":"b3","x":29.0,"y":2.6},{"p":"b3","x":31.0,"y":-1.0},{"p":"b3","x":33.5,"y":1.2},{"p":"b3","x":33.5,"y":-0.8},{"p":"b3","x":34.0,"y":-0.2},{"p":"b3","x":34.5,"y":0.3},{"p":"b3","x":36.0,"y":0.3},{"p":"b3","x":38.0,"y":0.1},{"p":"b3","x":44.5,"y":-0.2},
{"p":"b3","x":1,"y":0.0},{"p":"b3","x":2,"y":0.4},{"p":"b3","x":3,"y":0.7},{"p":"b3","x":4,"y":-0.4},{"p":"b3","x":5,"y":0.3},{"p":"b3","x":6,"y":-0.2},{"p":"b3","x":7,"y":0.6},{"p":"b3","x":8,"y":-0.5},{"p":"b3","x":9,"y":0.0},{"p":"b3","x":10,"y":0.5},{"p":"b3","x":11,"y":-0.4},{"p":"b3","x":12,"y":0.1},{"p":"b3","x":13,"y":0.6},{"p":"b3","x":14,"y":-0.3},{"p":"b3","x":15,"y":0.4},{"p":"b3","x":16,"y":-0.4},{"p":"b3","x":17,"y":0.2},{"p":"b3","x":18,"y":0.8},{"p":"b3","x":19,"y":-0.3},{"p":"b3","x":20,"y":0.2},{"p":"b3","x":21,"y":-0.6},{"p":"b3","x":22,"y":0.0},{"p":"b3","x":2,"y":-0.8},{"p":"b3","x":4,"y":1.0},{"p":"b3","x":6,"y":1.2},{"p":"b3","x":8,"y":-1.0},{"p":"b3","x":10,"y":1.0},{"p":"b3","x":12,"y":-0.7},{"p":"b3","x":14,"y":1.0},{"p":"b3","x":16,"y":0.9},{"p":"b3","x":18,"y":-0.9},{"p":"b3","x":20,"y":-1.0},{"p":"b3","x":5,"y":-1.4},{"p":"b3","x":7,"y":-1.2},{"p":"b3","x":9,"y":1.4},{"p":"b3","x":11,"y":1.2},{"p":"b3","x":13,"y":-1.3},{"p":"b3","x":15,"y":-1.0},{"p":"b3","x":17,"y":1.3},{"p":"b3","x":19,"y":1.1},{"p":"b3","x":3,"y":-1.0},{"p":"b3","x":11,"y":-1.5},{"p":"b3","x":9,"y":-0.9},{"p":"b3","x":7,"y":0.0},{"p":"b3","x":13,"y":0.1},{"p":"b3","x":15,"y":-0.1},{"p":"b3","x":10,"y":-0.2},{"p":"b3","x":12,"y":0.6},{"p":"b3","x":6,"y":0.6},{"p":"b3","x":16,"y":0.0},
{"p":"b3","x":1.5,"y":0.6},{"p":"b3","x":2.5,"y":-0.3},{"p":"b3","x":3.5,"y":0.9},{"p":"b3","x":4.0,"y":-1.1},{"p":"b3","x":4.5,"y":0.4},{"p":"b3","x":5.5,"y":-0.7},{"p":"b3","x":6.0,"y":0.1},{"p":"b3","x":6.5,"y":1.5},{"p":"b3","x":7.5,"y":-0.4},{"p":"b3","x":8.0,"y":1.2},{"p":"b3","x":8.5,"y":-0.8},{"p":"b3","x":9.0,"y":0.7},{"p":"b3","x":9.5,"y":-0.2},{"p":"b3","x":10.0,"y":1.5},{"p":"b3","x":10.5,"y":-0.6},{"p":"b3","x":11.0,"y":0.3},{"p":"b3","x":11.5,"y":-1.1},{"p":"b3","x":12.0,"y":0.9},{"p":"b3","x":12.5,"y":-0.3},{"p":"b3","x":13.0,"y":-0.6},{"p":"b3","x":13.5,"y":1.1},{"p":"b3","x":14.0,"y":0.4},{"p":"b3","x":14.5,"y":-1.5},{"p":"b3","x":15.0,"y":0.1},{"p":"b3","x":15.5,"y":1.4},{"p":"b3","x":16.0,"y":-1.1},{"p":"b3","x":16.5,"y":0.4},{"p":"b3","x":17.0,"y":-0.5},{"p":"b3","x":17.5,"y":1.0},{"p":"b3","x":18.0,"y":0.1},{"p":"b3","x":18.5,"y":-1.4},{"p":"b3","x":19.0,"y":0.6},{"p":"b3","x":19.5,"y":-0.1},{"p":"b3","x":20.0,"y":1.1},{"p":"b3","x":20.5,"y":-0.7},{"p":"b3","x":21.0,"y":0.5},{"p":"b3","x":21.5,"y":-0.3},{"p":"b3","x":22.0,"y":1.5},{"p":"b3","x":2.0,"y":1.8},{"p":"b3","x":4.0,"y":-1.7},{"p":"b3","x":6.0,"y":1.9},{"p":"b3","x":8.0,"y":-2.0},{"p":"b3","x":10.0,"y":2.0},{"p":"b3","x":12.0,"y":-1.8},{"p":"b3","x":14.0,"y":1.7},{"p":"b3","x":16.0,"y":-1.9},{"p":"b3","x":18.0,"y":2.1},{"p":"b3","x":20.0,"y":-1.9},{"p":"b3","x":9.0,"y":-1.5},{"p":"b3","x":11.0,"y":1.7},{"p":"b3","x":13.0,"y":2.0},{"p":"b3","x":15.0,"y":-1.6},{"p":"b3","x":17.0,"y":-1.2},{"p":"b3","x":19.0,"y":1.7},{"p":"b3","x":5.0,"y":0.9},{"p":"b3","x":7.0,"y":-0.7},{"p":"b3","x":3.0,"y":0.1},{"p":"b3","x":22.5,"y":-0.4},
{"p":"b3","x":0.8,"y":0.9},{"p":"b3","x":1.2,"y":-0.4},{"p":"b3","x":1.7,"y":-1.0},{"p":"b3","x":2.3,"y":1.3},{"p":"b3","x":2.7,"y":-0.6},{"p":"b3","x":3.3,"y":0.5},{"p":"b3","x":3.8,"y":-0.2},{"p":"b3","x":4.2,"y":0.8},{"p":"b3","x":4.7,"y":-0.5},{"p":"b3","x":5.2,"y":1.6},{"p":"b3","x":5.6,"y":0.0},{"p":"b3","x":6.2,"y":-1.1},{"p":"b3","x":6.7,"y":0.4},{"p":"b3","x":7.3,"y":1.0},{"p":"b3","x":7.7,"y":-0.1},{"p":"b3","x":8.3,"y":-1.4},{"p":"b3","x":8.7,"y":0.2},{"p":"b3","x":9.3,"y":-0.4},{"p":"b3","x":9.7,"y":1.1},{"p":"b3","x":10.3,"y":-1.3},{"p":"b3","x":10.7,"y":0.6},{"p":"b3","x":11.3,"y":-0.8},{"p":"b3","x":11.7,"y":1.4},{"p":"b3","x":12.3,"y":0.3},{"p":"b3","x":12.7,"y":-1.5},{"p":"b3","x":13.3,"y":0.8},{"p":"b3","x":13.7,"y":-0.2},{"p":"b3","x":14.3,"y":-1.2},{"p":"b3","x":14.7,"y":1.0},{"p":"b3","x":15.3,"y":0.5},{"p":"b3","x":15.7,"y":-0.5},{"p":"b3","x":16.3,"y":1.0},{"p":"b3","x":16.7,"y":-1.4},{"p":"b3","x":17.3,"y":0.0},{"p":"b3","x":17.7,"y":-0.9},{"p":"b3","x":18.3,"y":1.5},{"p":"b3","x":18.7,"y":0.2},{"p":"b3","x":19.3,"y":-1.1},{"p":"b3","x":19.7,"y":0.9},{"p":"b3","x":20.3,"y":0.1},{"p":"b3","x":20.7,"y":-1.2},{"p":"b3","x":21.3,"y":1.2},{"p":"b3","x":21.7,"y":0.0},{"p":"b3","x":22.3,"y":-1.2},{"p":"b3","x":2.2,"y":-2.0},{"p":"b3","x":5.8,"y":-2.1},{"p":"b3","x":9.7,"y":-2.2},{"p":"b3","x":13.5,"y":-2.1},{"p":"b3","x":17.3,"y":-2.2},{"p":"b3","x":20.8,"y":-2.1},{"p":"b3","x":3.2,"y":2.3},{"p":"b3","x":7.2,"y":2.4},{"p":"b3","x":11.0,"y":2.2},{"p":"b3","x":14.6,"y":2.4},{"p":"b3","x":18.6,"y":2.3},{"p":"b3","x":20.2,"y":2.2},{"p":"b3","x":6.9,"y":-0.3},{"p":"b3","x":10.9,"y":0.9},{"p":"b3","x":14.9,"y":-0.7},{"p":"b3","x":18.9,"y":0.4},

{"p":"b4","x":0.5,"y":3.3},{"p":"b4","x":0.0,"y":-0.65},{"p":"b4","x":0.5,"y":0.0},{"p":"b4","x":1.0,"y":-1.7},{"p":"b4","x":1.5,"y":0.1},{"p":"b4","x":2.0,"y":1.0},{"p":"b4","x":2.3,"y":0.5},{"p":"b4","x":2.6,"y":0.3},{"p":"b4","x":3.0,"y":-0.2},{"p":"b4","x":3.3,"y":1.9},{"p":"b4","x":3.5,"y":2.7},{"p":"b4","x":3.8,"y":1.3},{"p":"b4","x":4.2,"y":2.3},
{"p":"b4","x":4.5,"y":-0.3},{"p":"b4","x":4.8,"y":1.8},{"p":"b4","x":5.0,"y":3.1},{"p":"b4","x":5.2,"y":-1.0},{"p":"b4","x":5.5,"y":0.6},{"p":"b4","x":5.8,"y":2.2},{"p":"b4","x":6.0,"y":-1.8},{"p":"b4","x":6.3,"y":0.2},{"p":"b4","x":6.5,"y":1.1},{"p":"b4","x":6.8,"y":-0.6},{"p":"b4","x":7.0,"y":1.6},{"p":"b4","x":7.3,"y":-1.5},{"p":"b4","x":7.6,"y":0.4},{"p":"b4","x":7.9,"y":2.0},{"p":"b4","x":8.0,"y":3.3},{"p":"b4","x":8.1,"y":-2.1},{"p":"b4","x":8.3,"y":-0.2},
{"p":"b4","x":8.5,"y":1.2},{"p":"b4","x":8.8,"y":-0.9},{"p":"b4","x":9.0,"y":2.3},{"p":"b4","x":9.2,"y":0.5},{"p":"b4","x":9.5,"y":-1.3},{"p":"b4","x":9.7,"y":1.9},{"p":"b4","x":9.9,"y":-0.1},{"p":"b4","x":10.1,"y":0.9},{"p":"b4","x":10.3,"y":-1.8},{"p":"b4","x":10.5,"y":1.4},{"p":"b4","x":10.7,"y":0.1},{"p":"b4","x":10.9,"y":-0.7},{"p":"b4","x":11.0,"y":-2.2},{"p":"b4","x":11.2,"y":2.1},{"p":"b4","x":11.4,"y":0.4},{"p":"b4","x":11.6,"y":-1.4},{"p":"b4","x":11.8,"y":1.0},{"p":"b4","x":12.0,"y":3.3},{"p":"b4","x":12.1,"y":-0.4},
{"p":"b4","x":12.3,"y":0.7},{"p":"b4","x":12.5,"y":-1.1},{"p":"b4","x":12.7,"y":1.6},{"p":"b4","x":12.9,"y":0.0},{"p":"b4","x":13.1,"y":-1.7},{"p":"b4","x":13.3,"y":1.2},{"p":"b4","x":13.5,"y":-0.3},{"p":"b4","x":13.7,"y":2.3},{"p":"b4","x":14.0,"y":3.3},{"p":"b4","x":14.0,"y":-2.1},{"p":"b4","x":14.2,"y":0.3},{"p":"b4","x":14.4,"y":-0.8},{"p":"b4","x":14.6,"y":1.5},{"p":"b4","x":14.8,"y":-0.1},{"p":"b4","x":15.0,"y":-2.1},{"p":"b4","x":15.2,"y":0.8},{"p":"b4","x":15.4,"y":-1.2},{"p":"b4","x":15.6,"y":2.0},{"p":"b4","x":15.8,"y":0.2},
{"p":"b4","x":16.0,"y":-0.6},{"p":"b4","x":16.3,"y":1.1},{"p":"b4","x":16.6,"y":-1.6},{"p":"b4","x":16.9,"y":0.5},{"p":"b4","x":17.2,"y":-0.3},{"p":"b4","x":17.5,"y":1.8},{"p":"b4","x":17.8,"y":-1.0},{"p":"b4","x":18.1,"y":0.1},{"p":"b4","x":18.5,"y":-2.4},{"p":"b4","x":18.7,"y":1.3},{"p":"b4","x":19.0,"y":-2.3},{"p":"b4","x":19.0,"y":2.7},{"p":"b4","x":19.3,"y":-0.5},{"p":"b4","x":19.6,"y":0.6},{"p":"b4","x":20.0,"y":2.5},{"p":"b4","x":20.0,"y":-1.9},{"p":"b4","x":20.3,"y":-0.8},{"p":"b4","x":20.6,"y":1.0},{"p":"b4","x":20.9,"y":-1.4},
{"p":"b4","x":21.2,"y":0.3},{"p":"b4","x":21.5,"y":1.6},{"p":"b4","x":21.8,"y":-0.6},{"p":"b4","x":22.1,"y":2.1},{"p":"b4","x":22.4,"y":-1.2},{"p":"b4","x":22.7,"y":0.6},{"p":"b4","x":23.0,"y":-0.2},{"p":"b4","x":23.3,"y":1.3},{"p":"b4","x":23.6,"y":-0.9},{"p":"b4","x":23.9,"y":1.9},{"p":"b4","x":24.2,"y":0.2},{"p":"b4","x":24.5,"y":-1.6},{"p":"b4","x":24.8,"y":1.4},{"p":"b4","x":25.1,"y":-0.5},{"p":"b4","x":25.4,"y":0.8},{"p":"b4","x":25.7,"y":2.0},{"p":"b4","x":26.0,"y":1.2},{"p":"b4","x":25.5,"y":0.3},{"p":"b4","x":27.0,"y":0.5},
{"p":"b4","x":32.0,"y":0.45},{"p":"b4","x":38.0,"y":0.1},{"p":"b4","x":38.0,"y":-0.55},{"p":"b4","x":44.0,"y":-0.3},
{"p":"b4","x":9,"y":0.0},{"p":"b4","x":11,"y":-0.2},{"p":"b4","x":13,"y":0.4},{"p":"b4","x":15,"y":-0.4},{"p":"b4","x":17,"y":0.2},{"p":"b4","x":19,"y":0.0},{"p":"b4","x":21,"y":-0.3},{"p":"b4","x":23,"y":0.4},{"p":"b4","x":12,"y":0.9},{"p":"b4","x":14,"y":-1.2},{"p":"b4","x":16,"y":1.4},{"p":"b4","x":18,"y":-0.7},{"p":"b4","x":10,"y":-0.5},{"p":"b4","x":20,"y":0.2},{"p":"b4","x":22,"y":-0.9},{"p":"b4","x":8,"y":0.8},{"p":"b4","x":13,"y":-0.8},{"p":"b4","x":17,"y":0.9}
]
},
"vconcat":[
{"hconcat":[
{"width":180,"height":133,"title":"overweight","layer":[
{"data":{"name":"box"},"transform":[{"filter":"datum.p=='a1'"}],"mark":{"type":"rect","stroke":"#9a9a9a","strokeDash":[4,3],"strokeWidth":1,"clip":true},"encoding":{"x":{"field":"x","type":"quantitative","scale":{"domain":[1.8,39.7],"nice":false,"zero":false},"axis":{"title":"Predicted concentration (mg/L)","labelOverlap":false,"values":[5,10,15,20,25,30,35],"labelExpr":"indexof([5,10,20,30],datum.value)>=0?datum.label:''"}},"x2":{"field":"x2"},"y":{"field":"y","type":"quantitative","scale":{"domain":[-3.57,3.57],"nice":false,"zero":false},"axis":{"title":"NPDE","labelOverlap":false,"values":[-3,-2,-1,0,1,2,3],"labelExpr":"datum.value==0||datum.value==-2?'':datum.label"}},"y2":{"field":"y2"},"fill":{"field":"t","type":"nominal","scale":{"domain":["b","p"],"range":["#c6ddfb","#f8b8c5"]},"legend":null}}},
{"data":{"name":"ref"},"mark":{"type":"rule","strokeDash":[4,3],"strokeWidth":1},"encoding":{"y":{"field":"y","type":"quantitative","scale":{"domain":[-3.57,3.57],"nice":false,"zero":false},"axis":{"title":"NPDE","labelOverlap":false,"values":[-3,-2,-1,0,1,2,3],"labelExpr":"datum.value==0||datum.value==-2?'':datum.label"}},"stroke":{"field":"c","type":"nominal","scale":{"domain":["g","r"],"range":["#a0a0a0","#c84a4a"]},"legend":null}}},
{"data":{"name":"pl"},"transform":[{"filter":"datum.p=='a1'"}],"mark":{"type":"line","color":"#5b7c9c","strokeWidth":0.8,"clip":true},"encoding":{"x":{"field":"x","type":"quantitative","scale":{"domain":[1.8,39.7],"nice":false,"zero":false},"axis":{"title":"Predicted concentration (mg/L)","labelOverlap":false,"values":[5,10,15,20,25,30,35],"labelExpr":"indexof([5,10,20,30],datum.value)>=0?datum.label:''"}},"y":{"field":"y","type":"quantitative","scale":{"domain":[-3.57,3.57],"nice":false,"zero":false},"axis":{"title":"NPDE","labelOverlap":false,"values":[-3,-2,-1,0,1,2,3],"labelExpr":"datum.value==0||datum.value==-2?'':datum.label"}},"detail":{"field":"k"}}},
{"data":{"name":"pts"},"transform":[{"filter":"datum.p=='a1'"}],"mark":{"type":"circle","size":26,"color":"#2c5c88","opacity":1,"clip":true},"encoding":{"x":{"field":"x","type":"quantitative","scale":{"domain":[1.8,39.7],"nice":false,"zero":false},"axis":{"title":"Predicted concentration (mg/L)","labelOverlap":false,"values":[5,10,15,20,25,30,35],"labelExpr":"indexof([5,10,20,30],datum.value)>=0?datum.label:''"}},"y":{"field":"y","type":"quantitative","scale":{"domain":[-3.57,3.57],"nice":false,"zero":false},"axis":{"title":"NPDE","labelOverlap":false,"values":[-3,-2,-1,0,1,2,3],"labelExpr":"datum.value==0||datum.value==-2?'':datum.label"}}}}
]},
{"width":180,"height":133,"title":"obese","layer":[
{"data":{"name":"box"},"transform":[{"filter":"datum.p=='a2'"}],"mark":{"type":"rect","stroke":"#9a9a9a","strokeDash":[4,3],"strokeWidth":1,"clip":true},"encoding":{"x":{"field":"x","type":"quantitative","scale":{"domain":[1.2,43.3],"nice":false,"zero":false},"axis":{"title":"Predicted concentration (mg/L)","labelOverlap":false,"values":[10,20,30,40]}},"x2":{"field":"x2"},"y":{"field":"y","type":"quantitative","scale":{"domain":[-3.33,3.6],"nice":false,"zero":false},"axis":{"title":null,"labelOverlap":false,"values":[-3,-2,-1,0,1,2,3],"labelExpr":"datum.value==-2?'':datum.label"}},"y2":{"field":"y2"},"fill":{"field":"t","type":"nominal","scale":{"domain":["b","p"],"range":["#c6ddfb","#f8b8c5"]},"legend":null}}},
{"data":{"name":"ref"},"mark":{"type":"rule","strokeDash":[4,3],"strokeWidth":1},"encoding":{"y":{"field":"y","type":"quantitative","scale":{"domain":[-3.33,3.6],"nice":false,"zero":false},"axis":{"title":null,"labelOverlap":false,"values":[-3,-2,-1,0,1,2,3],"labelExpr":"datum.value==-2?'':datum.label"}},"stroke":{"field":"c","type":"nominal","scale":{"domain":["g","r"],"range":["#a0a0a0","#c84a4a"]},"legend":null}}},
{"data":{"name":"pl"},"transform":[{"filter":"datum.p=='a2'"}],"mark":{"type":"line","color":"#5b7c9c","strokeWidth":0.8,"clip":true},"encoding":{"x":{"field":"x","type":"quantitative","scale":{"domain":[1.2,43.3],"nice":false,"zero":false},"axis":{"title":"Predicted concentration (mg/L)","labelOverlap":false,"values":[10,20,30,40]}},"y":{"field":"y","type":"quantitative","scale":{"domain":[-3.33,3.6],"nice":false,"zero":false},"axis":{"title":null,"labelOverlap":false,"values":[-3,-2,-1,0,1,2,3],"labelExpr":"datum.value==-2?'':datum.label"}},"detail":{"field":"k"}}},
{"data":{"name":"pts"},"transform":[{"filter":"datum.p=='a2'"}],"mark":{"type":"circle","size":26,"color":"#2c5c88","opacity":1,"clip":true},"encoding":{"x":{"field":"x","type":"quantitative","scale":{"domain":[1.2,43.3],"nice":false,"zero":false},"axis":{"title":"Predicted concentration (mg/L)","labelOverlap":false,"values":[10,20,30,40]}},"y":{"field":"y","type":"quantitative","scale":{"domain":[-3.33,3.6],"nice":false,"zero":false},"axis":{"title":null,"labelOverlap":false,"values":[-3,-2,-1,0,1,2,3],"labelExpr":"datum.value==-2?'':datum.label"}}}}
]},
{"width":180,"height":133,"title":"Non-ICU patients","layer":[
{"data":{"name":"box"},"transform":[{"filter":"datum.p=='a3'"}],"mark":{"type":"rect","stroke":"#9a9a9a","strokeDash":[4,3],"strokeWidth":1,"clip":true},"encoding":{"x":{"field":"x","type":"quantitative","scale":{"domain":[1.2,43.0],"nice":false,"zero":false},"axis":{"title":"Predicted concentration (mg/L)","labelOverlap":false,"values":[10,20,30,40]}},"x2":{"field":"x2"},"y":{"field":"y","type":"quantitative","scale":{"domain":[-3.59,3.63],"nice":false,"zero":false},"axis":{"title":null,"labelOverlap":false,"values":[-3,-2,-1,0,1,2,3],"labelExpr":"datum.value==-2?'':datum.label"}},"y2":{"field":"y2"},"fill":{"field":"t","type":"nominal","scale":{"domain":["b","p"],"range":["#c6ddfb","#f8b8c5"]},"legend":null}}},
{"data":{"name":"ref"},"mark":{"type":"rule","strokeDash":[4,3],"strokeWidth":1},"encoding":{"y":{"field":"y","type":"quantitative","scale":{"domain":[-3.59,3.63],"nice":false,"zero":false},"axis":{"title":null,"labelOverlap":false,"values":[-3,-2,-1,0,1,2,3],"labelExpr":"datum.value==-2?'':datum.label"}},"stroke":{"field":"c","type":"nominal","scale":{"domain":["g","r"],"range":["#a0a0a0","#c84a4a"]},"legend":null}}},
{"data":{"name":"pl"},"transform":[{"filter":"datum.p=='a3'"}],"mark":{"type":"line","color":"#5b7c9c","strokeWidth":0.8,"clip":true},"encoding":{"x":{"field":"x","type":"quantitative","scale":{"domain":[1.2,43.0],"nice":false,"zero":false},"axis":{"title":"Predicted concentration (mg/L)","labelOverlap":false,"values":[10,20,30,40]}},"y":{"field":"y","type":"quantitative","scale":{"domain":[-3.59,3.63],"nice":false,"zero":false},"axis":{"title":null,"labelOverlap":false,"values":[-3,-2,-1,0,1,2,3],"labelExpr":"datum.value==-2?'':datum.label"}},"detail":{"field":"k"}}},
{"data":{"name":"pts"},"transform":[{"filter":"datum.p=='a3'"}],"mark":{"type":"circle","size":26,"color":"#2c5c88","opacity":1,"clip":true},"encoding":{"x":{"field":"x","type":"quantitative","scale":{"domain":[1.2,43.0],"nice":false,"zero":false},"axis":{"title":"Predicted concentration (mg/L)","labelOverlap":false,"values":[10,20,30,40]}},"y":{"field":"y","type":"quantitative","scale":{"domain":[-3.59,3.63],"nice":false,"zero":false},"axis":{"title":null,"labelOverlap":false,"values":[-3,-2,-1,0,1,2,3],"labelExpr":"datum.value==-2?'':datum.label"}}}}
]},
{"width":172,"height":133,"title":"ICU patients","layer":[
{"data":{"name":"box"},"transform":[{"filter":"datum.p=='a4'"}],"mark":{"type":"rect","stroke":"#9a9a9a","strokeDash":[4,3],"strokeWidth":1,"clip":true},"encoding":{"x":{"field":"x","type":"quantitative","scale":{"domain":[1.42,37.6],"nice":false,"zero":false},"axis":{"title":"Predicted concentration (mg/L)","labelOverlap":false,"values":[5,10,15,20,25,30,35],"labelExpr":"indexof([5,10,20,30],datum.value)>=0?datum.label:''"}},"x2":{"field":"x2"},"y":{"field":"y","type":"quantitative","scale":{"domain":[-2.86,3.51],"nice":false,"zero":false},"axis":{"title":null,"labelOverlap":false,"values":[-2,-1,0,1,2,3]}},"y2":{"field":"y2"},"fill":{"field":"t","type":"nominal","scale":{"domain":["b","p"],"range":["#c6ddfb","#f8b8c5"]},"legend":null}}},
{"data":{"name":"ref"},"mark":{"type":"rule","strokeDash":[4,3],"strokeWidth":1},"encoding":{"y":{"field":"y","type":"quantitative","scale":{"domain":[-2.86,3.51],"nice":false,"zero":false},"axis":{"title":null,"labelOverlap":false,"values":[-2,-1,0,1,2,3]}},"stroke":{"field":"c","type":"nominal","scale":{"domain":["g","r"],"range":["#a0a0a0","#c84a4a"]},"legend":null}}},
{"data":{"name":"pl"},"transform":[{"filter":"datum.p=='a4'"}],"mark":{"type":"line","color":"#5b7c9c","strokeWidth":0.8,"clip":true},"encoding":{"x":{"field":"x","type":"quantitative","scale":{"domain":[1.42,37.6],"nice":false,"zero":false},"axis":{"title":"Predicted concentration (mg/L)","labelOverlap":false,"values":[5,10,15,20,25,30,35],"labelExpr":"indexof([5,10,20,30],datum.value)>=0?datum.label:''"}},"y":{"field":"y","type":"quantitative","scale":{"domain":[-2.86,3.51],"nice":false,"zero":false},"axis":{"title":null,"labelOverlap":false,"values":[-2,-1,0,1,2,3]}},"detail":{"field":"k"}}},
{"data":{"name":"pts"},"transform":[{"filter":"datum.p=='a4'"}],"mark":{"type":"circle","size":26,"color":"#2c5c88","opacity":1,"clip":true},"encoding":{"x":{"field":"x","type":"quantitative","scale":{"domain":[1.42,37.6],"nice":false,"zero":false},"axis":{"title":"Predicted concentration (mg/L)","labelOverlap":false,"values":[5,10,15,20,25,30,35],"labelExpr":"indexof([5,10,20,30],datum.value)>=0?datum.label:''"}},"y":{"field":"y","type":"quantitative","scale":{"domain":[-2.86,3.51],"nice":false,"zero":false},"axis":{"title":null,"labelOverlap":false,"values":[-2,-1,0,1,2,3]}}}}
]}
],"spacing":60,"bounds":"flush","title":{"text":"a.","anchor":"start","frame":"group","fontSize":13,"dx":-28,"dy":36}},
{"hconcat":[
{"width":180,"height":133,"title":"overweight","layer":[
{"data":{"name":"box"},"transform":[{"filter":"datum.p=='b1'"}],"mark":{"type":"rect","stroke":"#9a9a9a","strokeDash":[4,3],"strokeWidth":1,"clip":true},"encoding":{"x":{"field":"x","type":"quantitative","scale":{"domain":[-1.8,46.5],"nice":false,"zero":false},"axis":{"title":"TAD (h)","labelOverlap":false,"values":[0,10,20,30,40]}},"x2":{"field":"x2"},"y":{"field":"y","type":"quantitative","scale":{"domain":[-3.58,3.61],"nice":false,"zero":false},"axis":{"title":"NPDE","labelOverlap":false,"values":[-3,-2,-1,0,1,2,3],"labelExpr":"datum.value==0||datum.value==-2?'':datum.label"}},"y2":{"field":"y2"},"fill":{"field":"t","type":"nominal","scale":{"domain":["b","p"],"range":["#c6ddfb","#f8b8c5"]},"legend":null}}},
{"data":{"name":"ref"},"mark":{"type":"rule","strokeDash":[4,3],"strokeWidth":1},"encoding":{"y":{"field":"y","type":"quantitative","scale":{"domain":[-3.58,3.61],"nice":false,"zero":false},"axis":{"title":"NPDE","labelOverlap":false,"values":[-3,-2,-1,0,1,2,3],"labelExpr":"datum.value==0||datum.value==-2?'':datum.label"}},"stroke":{"field":"c","type":"nominal","scale":{"domain":["g","r"],"range":["#a0a0a0","#c84a4a"]},"legend":null}}},
{"data":{"name":"pl"},"transform":[{"filter":"datum.p=='b1'"}],"mark":{"type":"line","color":"#5b7c9c","strokeWidth":0.8,"clip":true},"encoding":{"x":{"field":"x","type":"quantitative","scale":{"domain":[-1.8,46.5],"nice":false,"zero":false},"axis":{"title":"TAD (h)","labelOverlap":false,"values":[0,10,20,30,40]}},"y":{"field":"y","type":"quantitative","scale":{"domain":[-3.58,3.61],"nice":false,"zero":false},"axis":{"title":"NPDE","labelOverlap":false,"values":[-3,-2,-1,0,1,2,3],"labelExpr":"datum.value==0||datum.value==-2?'':datum.label"}},"detail":{"field":"k"}}},
{"data":{"name":"pts"},"transform":[{"filter":"datum.p=='b1'"}],"mark":{"type":"circle","size":26,"color":"#2c5c88","opacity":1,"clip":true},"encoding":{"x":{"field":"x","type":"quantitative","scale":{"domain":[-1.8,46.5],"nice":false,"zero":false},"axis":{"title":"TAD (h)","labelOverlap":false,"values":[0,10,20,30,40]}},"y":{"field":"y","type":"quantitative","scale":{"domain":[-3.58,3.61],"nice":false,"zero":false},"axis":{"title":"NPDE","labelOverlap":false,"values":[-3,-2,-1,0,1,2,3],"labelExpr":"datum.value==0||datum.value==-2?'':datum.label"}}}}
]},
{"width":180,"height":133,"title":"obese","layer":[
{"data":{"name":"box"},"transform":[{"filter":"datum.p=='b2'"}],"mark":{"type":"rect","stroke":"#9a9a9a","strokeDash":[4,3],"strokeWidth":1,"clip":true},"encoding":{"x":{"field":"x","type":"quantitative","scale":{"domain":[-1.0,44.8],"nice":false,"zero":false},"axis":{"title":"TAD (h)","labelOverlap":false,"values":[0,10,20,30,40]}},"x2":{"field":"x2"},"y":{"field":"y","type":"quantitative","scale":{"domain":[-3.35,3.57],"nice":false,"zero":false},"axis":{"title":null,"labelOverlap":false,"values":[-3,-2,-1,0,1,2,3],"labelExpr":"datum.value==-2?'':datum.label"}},"y2":{"field":"y2"},"fill":{"field":"t","type":"nominal","scale":{"domain":["b","p"],"range":["#c6ddfb","#f8b8c5"]},"legend":null}}},
{"data":{"name":"ref"},"mark":{"type":"rule","strokeDash":[4,3],"strokeWidth":1},"encoding":{"y":{"field":"y","type":"quantitative","scale":{"domain":[-3.35,3.57],"nice":false,"zero":false},"axis":{"title":null,"labelOverlap":false,"values":[-3,-2,-1,0,1,2,3],"labelExpr":"datum.value==-2?'':datum.label"}},"stroke":{"field":"c","type":"nominal","scale":{"domain":["g","r"],"range":["#a0a0a0","#c84a4a"]},"legend":null}}},
{"data":{"name":"pl"},"transform":[{"filter":"datum.p=='b2'"}],"mark":{"type":"line","color":"#5b7c9c","strokeWidth":0.8,"clip":true},"encoding":{"x":{"field":"x","type":"quantitative","scale":{"domain":[-1.0,44.8],"nice":false,"zero":false},"axis":{"title":"TAD (h)","labelOverlap":false,"values":[0,10,20,30,40]}},"y":{"field":"y","type":"quantitative","scale":{"domain":[-3.35,3.57],"nice":false,"zero":false},"axis":{"title":null,"labelOverlap":false,"values":[-3,-2,-1,0,1,2,3],"labelExpr":"datum.value==-2?'':datum.label"}},"detail":{"field":"k"}}},
{"data":{"name":"pts"},"transform":[{"filter":"datum.p=='b2'"}],"mark":{"type":"circle","size":26,"color":"#2c5c88","opacity":1,"clip":true},"encoding":{"x":{"field":"x","type":"quantitative","scale":{"domain":[-1.0,44.8],"nice":false,"zero":false},"axis":{"title":"TAD (h)","labelOverlap":false,"values":[0,10,20,30,40]}},"y":{"field":"y","type":"quantitative","scale":{"domain":[-3.35,3.57],"nice":false,"zero":false},"axis":{"title":null,"labelOverlap":false,"values":[-3,-2,-1,0,1,2,3],"labelExpr":"datum.value==-2?'':datum.label"}}}}
]},
{"width":180,"height":133,"title":"Non-ICU patients","layer":[
{"data":{"name":"box"},"transform":[{"filter":"datum.p=='b3'"}],"mark":{"type":"rect","stroke":"#9a9a9a","strokeDash":[4,3],"strokeWidth":1,"clip":true},"encoding":{"x":{"field":"x","type":"quantitative","scale":{"domain":[-1.4,46.6],"nice":false,"zero":false},"axis":{"title":"TAD (h)","labelOverlap":false,"values":[0,10,20,30,40]}},"x2":{"field":"x2"},"y":{"field":"y","type":"quantitative","scale":{"domain":[-3.55,3.58],"nice":false,"zero":false},"axis":{"title":null,"labelOverlap":false,"values":[-3,-2,-1,0,1,2,3],"labelExpr":"datum.value==-2?'':datum.label"}},"y2":{"field":"y2"},"fill":{"field":"t","type":"nominal","scale":{"domain":["b","p"],"range":["#c6ddfb","#f8b8c5"]},"legend":null}}},
{"data":{"name":"ref"},"mark":{"type":"rule","strokeDash":[4,3],"strokeWidth":1},"encoding":{"y":{"field":"y","type":"quantitative","scale":{"domain":[-3.55,3.58],"nice":false,"zero":false},"axis":{"title":null,"labelOverlap":false,"values":[-3,-2,-1,0,1,2,3],"labelExpr":"datum.value==-2?'':datum.label"}},"stroke":{"field":"c","type":"nominal","scale":{"domain":["g","r"],"range":["#a0a0a0","#c84a4a"]},"legend":null}}},
{"data":{"name":"pl"},"transform":[{"filter":"datum.p=='b3'"}],"mark":{"type":"line","color":"#5b7c9c","strokeWidth":0.8,"clip":true},"encoding":{"x":{"field":"x","type":"quantitative","scale":{"domain":[-1.4,46.6],"nice":false,"zero":false},"axis":{"title":"TAD (h)","labelOverlap":false,"values":[0,10,20,30,40]}},"y":{"field":"y","type":"quantitative","scale":{"domain":[-3.55,3.58],"nice":false,"zero":false},"axis":{"title":null,"labelOverlap":false,"values":[-3,-2,-1,0,1,2,3],"labelExpr":"datum.value==-2?'':datum.label"}},"detail":{"field":"k"}}},
{"data":{"name":"pts"},"transform":[{"filter":"datum.p=='b3'"}],"mark":{"type":"circle","size":26,"color":"#2c5c88","opacity":1,"clip":true},"encoding":{"x":{"field":"x","type":"quantitative","scale":{"domain":[-1.4,46.6],"nice":false,"zero":false},"axis":{"title":"TAD (h)","labelOverlap":false,"values":[0,10,20,30,40]}},"y":{"field":"y","type":"quantitative","scale":{"domain":[-3.55,3.58],"nice":false,"zero":false},"axis":{"title":null,"labelOverlap":false,"values":[-3,-2,-1,0,1,2,3],"labelExpr":"datum.value==-2?'':datum.label"}}}}
]},
{"width":172,"height":133,"title":"ICU patients","layer":[
{"data":{"name":"box"},"transform":[{"filter":"datum.p=='b4'"}],"mark":{"type":"rect","stroke":"#9a9a9a","strokeDash":[4,3],"strokeWidth":1,"clip":true},"encoding":{"x":{"field":"x","type":"quantitative","scale":{"domain":[-1.55,42.9],"nice":false,"zero":false},"axis":{"title":"TAD (h)","labelOverlap":false,"values":[0,10,20,30,40]}},"x2":{"field":"x2"},"y":{"field":"y","type":"quantitative","scale":{"domain":[-2.8,3.55],"nice":false,"zero":false},"axis":{"title":null,"labelOverlap":false,"values":[-2,-1,0,1,2,3]}},"y2":{"field":"y2"},"fill":{"field":"t","type":"nominal","scale":{"domain":["b","p"],"range":["#c6ddfb","#f8b8c5"]},"legend":null}}},
{"data":{"name":"ref"},"mark":{"type":"rule","strokeDash":[4,3],"strokeWidth":1},"encoding":{"y":{"field":"y","type":"quantitative","scale":{"domain":[-2.8,3.55],"nice":false,"zero":false},"axis":{"title":null,"labelOverlap":false,"values":[-2,-1,0,1,2,3]}},"stroke":{"field":"c","type":"nominal","scale":{"domain":["g","r"],"range":["#a0a0a0","#c84a4a"]},"legend":null}}},
{"data":{"name":"pl"},"transform":[{"filter":"datum.p=='b4'"}],"mark":{"type":"line","color":"#5b7c9c","strokeWidth":0.8,"clip":true},"encoding":{"x":{"field":"x","type":"quantitative","scale":{"domain":[-1.55,42.9],"nice":false,"zero":false},"axis":{"title":"TAD (h)","labelOverlap":false,"values":[0,10,20,30,40]}},"y":{"field":"y","type":"quantitative","scale":{"domain":[-2.8,3.55],"nice":false,"zero":false},"axis":{"title":null,"labelOverlap":false,"values":[-2,-1,0,1,2,3]}},"detail":{"field":"k"}}},
{"data":{"name":"pts"},"transform":[{"filter":"datum.p=='b4'"}],"mark":{"type":"circle","size":26,"color":"#2c5c88","opacity":1,"clip":true},"encoding":{"x":{"field":"x","type":"quantitative","scale":{"domain":[-1.55,42.9],"nice":false,"zero":false},"axis":{"title":"TAD (h)","labelOverlap":false,"values":[0,10,20,30,40]}},"y":{"field":"y","type":"quantitative","scale":{"domain":[-2.8,3.55],"nice":false,"zero":false},"axis":{"title":null,"labelOverlap":false,"values":[-2,-1,0,1,2,3]}}}}
]}
],"spacing":60,"bounds":"flush","title":{"text":"b.","anchor":"start","frame":"group","fontSize":13,"dx":-28,"dy":36}}
],
"spacing":274,"bounds":"flush",
"config":{
"font":"Liberation Sans",
"view":{"stroke":"#555555","strokeWidth":1},
"axis":{"grid":false,"domainColor":"#555555","tickColor":"#555555","labelColor":"#222222","titleColor":"#333333","labelFont":"Liberation Sans","titleFont":"Liberation Sans","labelFontSize":12,"titleFontSize":12,"titleFontWeight":"normal","tickSize":4,"offset":6,"labelPadding":6,"labelOverlap":false,"labelFlush":false},
"axisX":{"titlePadding":16,"labelPadding":10},
"axisY":{"labelAngle":270,"titlePadding":10,"labelPadding":11,"labelOverlap":false},
"title":{"font":"Liberation Sans","fontSize":12,"fontWeight":"bold","color":"#000000","offset":22}
}
}
